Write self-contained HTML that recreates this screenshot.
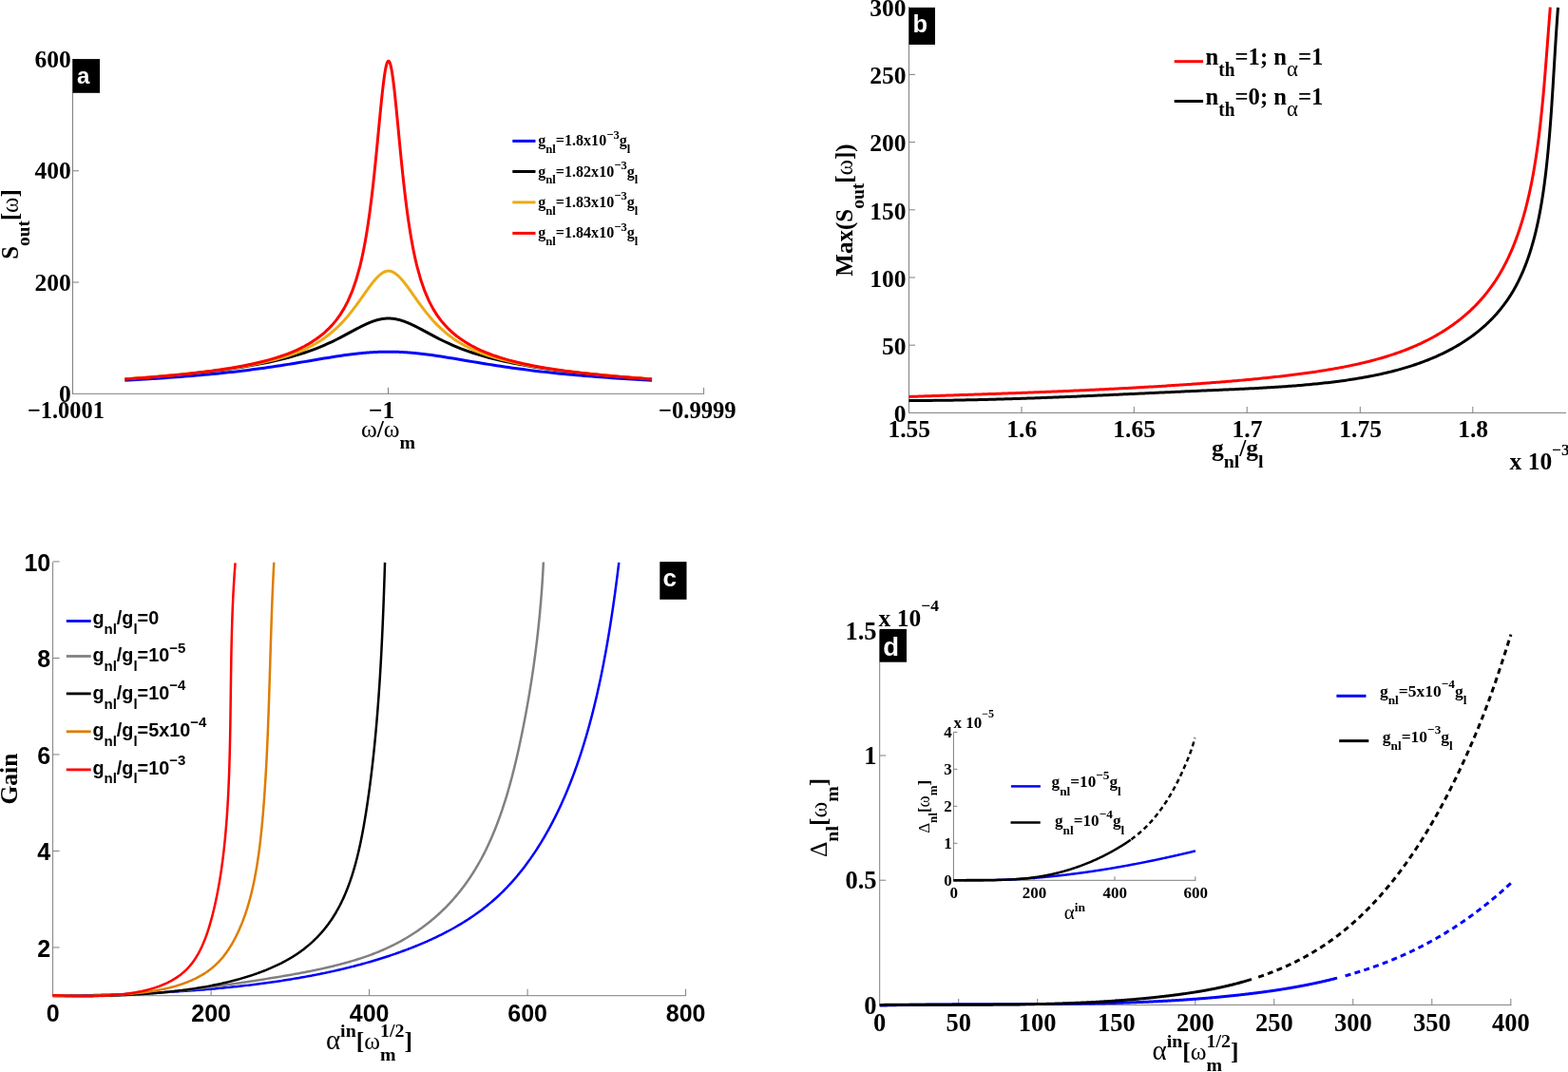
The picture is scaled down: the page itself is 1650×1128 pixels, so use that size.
<!DOCTYPE html>
<html><head><meta charset="utf-8"><title>Figure</title>
<style>html,body{margin:0;padding:0;background:#fff;width:1650px;height:1128px;overflow:hidden}svg{display:block}</style>
</head><body>
<svg width="1650" height="1128" viewBox="0 0 1650 1128">
<line x1="76.5" y1="62" x2="76.5" y2="414.8" stroke="#7f7f7f" stroke-width="1"/>
<line x1="76" y1="414.3" x2="741.1" y2="414.3" stroke="#7f7f7f" stroke-width="1"/>
<line x1="76.5" y1="297.04" x2="83" y2="297.04" stroke="#7f7f7f" stroke-width="1"/>
<line x1="76.5" y1="179.78" x2="83" y2="179.78" stroke="#7f7f7f" stroke-width="1"/>
<line x1="76.5" y1="62.52" x2="83" y2="62.52" stroke="#7f7f7f" stroke-width="1"/>
<line x1="408.5" y1="414.3" x2="408.5" y2="407.8" stroke="#7f7f7f" stroke-width="1"/>
<line x1="740.6" y1="414.3" x2="740.6" y2="407.8" stroke="#7f7f7f" stroke-width="1"/>
<text x="74.8" y="422.9" font-family="'Liberation Serif','Times New Roman',serif" font-size="25.5" font-weight="bold" text-anchor="end">0</text>
<text x="74.8" y="305.64" font-family="'Liberation Serif','Times New Roman',serif" font-size="25.5" font-weight="bold" text-anchor="end">200</text>
<text x="74.8" y="188.38" font-family="'Liberation Serif','Times New Roman',serif" font-size="25.5" font-weight="bold" text-anchor="end">400</text>
<text x="74.8" y="71.12" font-family="'Liberation Serif','Times New Roman',serif" font-size="25.5" font-weight="bold" text-anchor="end">600</text>
<text transform="translate(69.4,440) scale(0.955,1)" font-family="'Liberation Serif','Times New Roman',serif" font-size="25.5" font-weight="bold" text-anchor="middle">−1.0001</text>
<text x="401.6" y="440" font-family="'Liberation Serif','Times New Roman',serif" font-size="25.5" font-weight="bold" text-anchor="middle">−1</text>
<text transform="translate(733.8,440) scale(0.965,1)" font-family="'Liberation Serif','Times New Roman',serif" font-size="25.5" font-weight="bold" text-anchor="middle">−0.9999</text>
<g transform="translate(408.5,460.2)"><text x="-28.61" y="0" font-family="'Liberation Serif','Times New Roman',serif" font-size="25.5" font-weight="normal">ω</text><text x="-11.83" y="0" font-family="'Liberation Serif','Times New Roman',serif" font-size="25.5" font-weight="bold">/</text><text x="-4.74" y="0" font-family="'Liberation Serif','Times New Roman',serif" font-size="25.5" font-weight="normal">ω</text><text x="12.04" y="11.98" font-family="'Liberation Serif','Times New Roman',serif" font-size="19.89" font-weight="bold">m</text></g>
<g transform="translate(19.2,236) rotate(-90) scale(0.97,1)"><text x="-37.79" y="0" font-family="'Liberation Serif','Times New Roman',serif" font-size="25.5" font-weight="bold">S</text><text x="-23.61" y="11.98" font-family="'Liberation Serif','Times New Roman',serif" font-size="19.89" font-weight="bold">out</text><text x="4.02" y="0" font-family="'Liberation Serif','Times New Roman',serif" font-size="25.5" font-weight="bold">[</text><text x="12.51" y="0" font-family="'Liberation Serif','Times New Roman',serif" font-size="25.5" font-weight="normal">ω</text><text x="29.3" y="0" font-family="'Liberation Serif','Times New Roman',serif" font-size="25.5" font-weight="bold">]</text></g>
<path d="M131.4,400.15L135.59,399.93L139.79,399.7L143.98,399.47L148.17,399.23L152.37,398.98L156.56,398.73L160.75,398.47L164.95,398.2L169.14,397.93L173.33,397.65L177.53,397.36L181.72,397.06L185.91,396.76L190.11,396.44L194.3,396.12L198.49,395.79L202.68,395.44L206.88,395.09L211.07,394.73L215.26,394.35L219.46,393.96L223.65,393.57L227.84,393.16L232.04,392.73L236.23,392.3L240.42,391.85L244.62,391.39L248.81,390.91L253,390.42L257.2,389.91L261.39,389.39L265.58,388.86L269.78,388.31L273.97,387.74L278.16,387.16L282.36,386.57L286.55,385.96L290.74,385.33L294.94,384.69L299.13,384.04L303.32,383.38L307.52,382.7L311.71,382.01L315.9,381.32L320.09,380.62L324.29,379.91L328.48,379.2L332.67,378.49L336.87,377.79L341.06,377.09L345.25,376.4L349.45,375.73L353.64,375.07L357.83,374.44L362.03,373.83L366.22,373.25L370.41,372.71L374.61,372.21L378.8,371.76L379.05,371.73L379.3,371.7L379.55,371.68L379.8,371.65L380.05,371.63L380.3,371.6L380.55,371.58L380.8,371.56L381.05,371.53L381.3,371.51L381.55,371.48L381.8,371.46L382.05,371.44L382.3,371.41L382.55,371.39L382.8,371.37L383.05,371.34L383.3,371.32L383.55,371.3L383.8,371.28L384.05,371.26L384.3,371.23L384.55,371.21L384.8,371.19L385.05,371.17L385.3,371.15L385.55,371.13L385.8,371.11L386.05,371.09L386.3,371.07L386.55,371.05L386.8,371.03L387.05,371.01L387.3,370.99L387.55,370.97L387.8,370.95L388.05,370.93L388.3,370.91L388.55,370.89L388.8,370.88L389.05,370.86L389.3,370.84L389.55,370.82L389.8,370.81L390.05,370.79L390.3,370.77L390.55,370.76L390.8,370.74L391.05,370.72L391.3,370.71L391.55,370.69L391.8,370.68L392.05,370.66L392.3,370.64L392.55,370.63L392.8,370.62L393.05,370.6L393.3,370.59L393.55,370.57L393.8,370.56L394.05,370.54L394.3,370.53L394.55,370.52L394.8,370.51L395.05,370.49L395.3,370.48L395.55,370.47L395.8,370.46L396.05,370.44L396.3,370.43L396.55,370.42L396.8,370.41L397.05,370.4L397.3,370.39L397.55,370.38L397.8,370.37L398.05,370.36L398.3,370.35L398.55,370.34L398.8,370.33L399.05,370.32L399.3,370.31L399.55,370.3L399.8,370.29L400.05,370.28L400.3,370.28L400.55,370.27L400.8,370.26L401.05,370.25L401.3,370.25L401.55,370.24L401.8,370.23L402.05,370.23L402.3,370.22L402.55,370.21L402.8,370.21L403.05,370.2L403.3,370.2L403.55,370.19L403.8,370.19L404.05,370.18L404.3,370.18L404.55,370.17L404.8,370.17L405.05,370.17L405.3,370.16L405.55,370.16L405.8,370.16L406.05,370.15L406.3,370.15L406.55,370.15L406.8,370.15L407.05,370.15L407.3,370.14L407.55,370.14L407.8,370.14L408.05,370.14L408.3,370.14L408.55,370.14L408.8,370.14L409.05,370.14L409.3,370.14L409.55,370.14L409.8,370.14L410.05,370.14L410.3,370.14L410.55,370.15L410.8,370.15L411.05,370.15L411.3,370.15L411.55,370.15L411.8,370.16L412.05,370.16L412.3,370.16L412.55,370.17L412.8,370.17L413.05,370.17L413.3,370.18L413.55,370.18L413.8,370.19L414.05,370.19L414.3,370.2L414.55,370.2L414.8,370.21L415.05,370.21L415.3,370.22L415.55,370.23L415.8,370.23L416.05,370.24L416.3,370.25L416.55,370.25L416.8,370.26L417.05,370.27L417.3,370.28L417.55,370.28L417.8,370.29L418.05,370.3L418.3,370.31L418.55,370.32L418.8,370.33L419.05,370.34L419.3,370.35L419.55,370.36L419.8,370.37L420.05,370.38L420.3,370.39L420.55,370.4L420.8,370.41L421.05,370.42L421.3,370.43L421.55,370.44L421.8,370.46L422.05,370.47L422.3,370.48L422.55,370.49L422.8,370.51L423.05,370.52L423.3,370.53L423.55,370.54L423.8,370.56L424.05,370.57L424.3,370.59L424.55,370.6L424.8,370.62L425.05,370.63L425.3,370.64L425.55,370.66L425.8,370.68L426.05,370.69L426.3,370.71L426.55,370.72L426.8,370.74L427.05,370.76L427.3,370.77L427.55,370.79L427.8,370.81L428.05,370.82L428.3,370.84L428.55,370.86L428.8,370.88L429.05,370.89L429.3,370.91L429.55,370.93L429.8,370.95L430.05,370.97L430.3,370.99L430.55,371.01L430.8,371.03L431.05,371.05L431.3,371.07L431.55,371.09L431.8,371.11L432.05,371.13L432.3,371.15L432.55,371.17L432.8,371.19L433.05,371.21L433.3,371.23L433.55,371.26L433.8,371.28L434.05,371.3L434.3,371.32L434.55,371.34L434.8,371.37L435.05,371.39L435.3,371.41L435.55,371.44L435.8,371.46L436.05,371.48L436.3,371.51L436.55,371.53L436.8,371.56L437.05,371.58L437.3,371.6L437.55,371.63L437.8,371.65L438.05,371.68L438.3,371.7L438.55,371.73L438.8,371.76L442.99,372.21L447.18,372.71L451.37,373.25L455.56,373.83L459.75,374.43L463.94,375.07L468.13,375.72L472.32,376.4L476.51,377.09L480.7,377.78L484.89,378.49L489.08,379.2L493.27,379.9L497.46,380.61L501.65,381.31L505.84,382.01L510.03,382.69L514.22,383.37L518.41,384.03L522.6,384.68L526.79,385.32L530.98,385.95L535.17,386.56L539.36,387.15L543.55,387.73L547.74,388.3L551.93,388.85L556.12,389.38L560.31,389.9L564.49,390.41L568.68,390.9L572.87,391.37L577.06,391.84L581.25,392.29L585.44,392.72L589.63,393.14L593.82,393.55L598.01,393.95L602.2,394.34L606.39,394.71L610.58,395.08L614.77,395.43L618.96,395.77L623.15,396.11L627.34,396.43L631.53,396.75L635.72,397.05L639.91,397.35L644.1,397.64L648.29,397.92L652.48,398.19L656.67,398.46L660.86,398.72L665.05,398.97L669.24,399.22L673.43,399.46L677.62,399.69L681.81,399.92L686,400.14" fill="none" stroke="#0000ff" stroke-width="3" stroke-linejoin="round"/>
<path d="M131.4,399.02L135.59,398.73L139.79,398.44L143.98,398.13L148.17,397.82L152.37,397.5L156.56,397.17L160.75,396.84L164.95,396.49L169.14,396.14L173.33,395.77L177.53,395.4L181.72,395.02L185.91,394.62L190.11,394.22L194.3,393.8L198.49,393.37L202.68,392.93L206.88,392.48L211.07,392.01L215.26,391.53L219.46,391.04L223.65,390.53L227.84,390L232.04,389.46L236.23,388.9L240.42,388.32L244.62,387.72L248.81,387.1L253,386.45L257.2,385.78L261.39,385.09L265.58,384.37L269.78,383.62L273.97,382.83L278.16,382.02L282.36,381.17L286.55,380.27L290.74,379.34L294.94,378.36L299.13,377.33L303.32,376.25L307.52,375.11L311.71,373.9L315.9,372.63L320.09,371.29L324.29,369.87L328.48,368.37L332.67,366.79L336.87,365.11L341.06,363.34L345.25,361.48L349.45,359.53L353.64,357.48L357.83,355.36L362.03,353.17L366.22,350.93L370.41,348.67L374.61,346.42L378.8,344.23L379.05,344.1L379.3,343.97L379.55,343.84L379.8,343.72L380.05,343.59L380.3,343.47L380.55,343.34L380.8,343.21L381.05,343.09L381.3,342.97L381.55,342.84L381.8,342.72L382.05,342.6L382.3,342.48L382.55,342.35L382.8,342.23L383.05,342.11L383.3,341.99L383.55,341.87L383.8,341.76L384.05,341.64L384.3,341.52L384.55,341.4L384.8,341.29L385.05,341.17L385.3,341.06L385.55,340.94L385.8,340.83L386.05,340.72L386.3,340.61L386.55,340.5L386.8,340.39L387.05,340.28L387.3,340.17L387.55,340.06L387.8,339.95L388.05,339.85L388.3,339.74L388.55,339.64L388.8,339.53L389.05,339.43L389.3,339.33L389.55,339.23L389.8,339.13L390.05,339.03L390.3,338.93L390.55,338.83L390.8,338.74L391.05,338.64L391.3,338.55L391.55,338.45L391.8,338.36L392.05,338.27L392.3,338.18L392.55,338.09L392.8,338L393.05,337.91L393.3,337.83L393.55,337.74L393.8,337.66L394.05,337.58L394.3,337.5L394.55,337.41L394.8,337.34L395.05,337.26L395.3,337.18L395.55,337.11L395.8,337.03L396.05,336.96L396.3,336.89L396.55,336.81L396.8,336.75L397.05,336.68L397.3,336.61L397.55,336.54L397.8,336.48L398.05,336.42L398.3,336.36L398.55,336.29L398.8,336.24L399.05,336.18L399.3,336.12L399.55,336.07L399.8,336.01L400.05,335.96L400.3,335.91L400.55,335.86L400.8,335.81L401.05,335.76L401.3,335.72L401.55,335.67L401.8,335.63L402.05,335.59L402.3,335.55L402.55,335.51L402.8,335.48L403.05,335.44L403.3,335.41L403.55,335.37L403.8,335.34L404.05,335.31L404.3,335.29L404.55,335.26L404.8,335.24L405.05,335.21L405.3,335.19L405.55,335.17L405.8,335.15L406.05,335.13L406.3,335.12L406.55,335.1L406.8,335.09L407.05,335.08L407.3,335.07L407.55,335.06L407.8,335.05L408.05,335.05L408.3,335.04L408.55,335.04L408.8,335.04L409.05,335.04L409.3,335.04L409.55,335.05L409.8,335.05L410.05,335.06L410.3,335.07L410.55,335.08L410.8,335.09L411.05,335.1L411.3,335.12L411.55,335.13L411.8,335.15L412.05,335.17L412.3,335.19L412.55,335.21L412.8,335.24L413.05,335.26L413.3,335.29L413.55,335.31L413.8,335.34L414.05,335.37L414.3,335.41L414.55,335.44L414.8,335.48L415.05,335.51L415.3,335.55L415.55,335.59L415.8,335.63L416.05,335.67L416.3,335.72L416.55,335.76L416.8,335.81L417.05,335.86L417.3,335.91L417.55,335.96L417.8,336.01L418.05,336.07L418.3,336.12L418.55,336.18L418.8,336.24L419.05,336.29L419.3,336.36L419.55,336.42L419.8,336.48L420.05,336.54L420.3,336.61L420.55,336.68L420.8,336.75L421.05,336.81L421.3,336.89L421.55,336.96L421.8,337.03L422.05,337.11L422.3,337.18L422.55,337.26L422.8,337.34L423.05,337.41L423.3,337.5L423.55,337.58L423.8,337.66L424.05,337.74L424.3,337.83L424.55,337.91L424.8,338L425.05,338.09L425.3,338.18L425.55,338.27L425.8,338.36L426.05,338.45L426.3,338.55L426.55,338.64L426.8,338.74L427.05,338.83L427.3,338.93L427.55,339.03L427.8,339.13L428.05,339.23L428.3,339.33L428.55,339.43L428.8,339.53L429.05,339.64L429.3,339.74L429.55,339.85L429.8,339.95L430.05,340.06L430.3,340.17L430.55,340.28L430.8,340.39L431.05,340.5L431.3,340.61L431.55,340.72L431.8,340.83L432.05,340.94L432.3,341.06L432.55,341.17L432.8,341.29L433.05,341.4L433.3,341.52L433.55,341.64L433.8,341.76L434.05,341.87L434.3,341.99L434.55,342.11L434.8,342.23L435.05,342.35L435.3,342.48L435.55,342.6L435.8,342.72L436.05,342.84L436.3,342.97L436.55,343.09L436.8,343.21L437.05,343.34L437.3,343.47L437.55,343.59L437.8,343.72L438.05,343.84L438.3,343.97L438.55,344.1L438.8,344.23L442.99,346.42L447.18,348.66L451.37,350.92L455.56,353.16L459.75,355.35L463.94,357.47L468.13,359.51L472.32,361.47L476.51,363.33L480.7,365.1L484.89,366.77L489.08,368.36L493.27,369.86L497.46,371.28L501.65,372.62L505.84,373.89L510.03,375.09L514.22,376.23L518.41,377.31L522.6,378.34L526.79,379.32L530.98,380.26L535.17,381.15L539.36,382L543.55,382.82L547.74,383.6L551.93,384.35L556.12,385.07L560.31,385.77L564.49,386.44L568.68,387.08L572.87,387.7L577.06,388.3L581.25,388.88L585.44,389.44L589.63,389.99L593.82,390.51L598.01,391.02L602.2,391.52L606.39,392L610.58,392.47L614.77,392.92L618.96,393.36L623.15,393.79L627.34,394.2L631.53,394.61L635.72,395L639.91,395.39L644.1,395.76L648.29,396.12L652.48,396.48L656.67,396.82L660.86,397.16L665.05,397.49L669.24,397.81L673.43,398.12L677.62,398.42L681.81,398.72L686,399.01" fill="none" stroke="#000000" stroke-width="3" stroke-linejoin="round"/>
<path d="M131.4,398.68L135.59,398.4L139.79,398.1L143.98,397.8L148.17,397.5L152.37,397.18L156.56,396.86L160.75,396.53L164.95,396.18L169.14,395.83L173.33,395.48L177.53,395.11L181.72,394.73L185.91,394.33L190.11,393.93L194.3,393.52L198.49,393.09L202.68,392.65L206.88,392.19L211.07,391.73L215.26,391.24L219.46,390.74L223.65,390.22L227.84,389.68L232.04,389.12L236.23,388.54L240.42,387.94L244.62,387.31L248.81,386.66L253,385.98L257.2,385.26L261.39,384.51L265.58,383.73L269.78,382.9L273.97,382.03L278.16,381.11L282.36,380.14L286.55,379.11L290.74,378.01L294.94,376.84L299.13,375.59L303.32,374.25L307.52,372.81L311.71,371.26L315.9,369.59L320.09,367.77L324.29,365.79L328.48,363.64L332.67,361.29L336.87,358.72L341.06,355.91L345.25,352.82L349.45,349.43L353.64,345.71L357.83,341.63L362.03,337.19L366.22,332.36L370.41,327.17L374.61,321.63L378.8,315.84L379.05,315.49L379.3,315.13L379.55,314.78L379.8,314.43L380.05,314.07L380.3,313.72L380.55,313.37L380.8,313.01L381.05,312.66L381.3,312.3L381.55,311.95L381.8,311.59L382.05,311.24L382.3,310.88L382.55,310.53L382.8,310.17L383.05,309.82L383.3,309.46L383.55,309.11L383.8,308.75L384.05,308.4L384.3,308.04L384.55,307.69L384.8,307.34L385.05,306.98L385.3,306.63L385.55,306.28L385.8,305.93L386.05,305.58L386.3,305.23L386.55,304.88L386.8,304.53L387.05,304.18L387.3,303.84L387.55,303.49L387.8,303.15L388.05,302.8L388.3,302.46L388.55,302.12L388.8,301.78L389.05,301.44L389.3,301.11L389.55,300.77L389.8,300.44L390.05,300.11L390.3,299.78L390.55,299.45L390.8,299.12L391.05,298.8L391.3,298.47L391.55,298.15L391.8,297.83L392.05,297.52L392.3,297.2L392.55,296.89L392.8,296.58L393.05,296.27L393.3,295.97L393.55,295.67L393.8,295.37L394.05,295.07L394.3,294.78L394.55,294.49L394.8,294.2L395.05,293.91L395.3,293.63L395.55,293.35L395.8,293.08L396.05,292.81L396.3,292.54L396.55,292.27L396.8,292.01L397.05,291.75L397.3,291.5L397.55,291.25L397.8,291L398.05,290.76L398.3,290.52L398.55,290.29L398.8,290.06L399.05,289.83L399.3,289.61L399.55,289.4L399.8,289.18L400.05,288.98L400.3,288.77L400.55,288.57L400.8,288.38L401.05,288.19L401.3,288.01L401.55,287.83L401.8,287.65L402.05,287.48L402.3,287.32L402.55,287.16L402.8,287.01L403.05,286.86L403.3,286.72L403.55,286.58L403.8,286.45L404.05,286.32L404.3,286.2L404.55,286.09L404.8,285.98L405.05,285.88L405.3,285.78L405.55,285.69L405.8,285.61L406.05,285.53L406.3,285.46L406.55,285.39L406.8,285.33L407.05,285.28L407.3,285.23L407.55,285.19L407.8,285.16L408.05,285.14L408.3,285.12L408.55,285.1L408.8,285.1L409.05,285.1L409.3,285.12L409.55,285.14L409.8,285.16L410.05,285.19L410.3,285.23L410.55,285.28L410.8,285.33L411.05,285.39L411.3,285.46L411.55,285.53L411.8,285.61L412.05,285.69L412.3,285.78L412.55,285.88L412.8,285.98L413.05,286.09L413.3,286.2L413.55,286.32L413.8,286.45L414.05,286.58L414.3,286.72L414.55,286.86L414.8,287.01L415.05,287.16L415.3,287.32L415.55,287.48L415.8,287.65L416.05,287.83L416.3,288.01L416.55,288.19L416.8,288.38L417.05,288.57L417.3,288.77L417.55,288.98L417.8,289.18L418.05,289.4L418.3,289.61L418.55,289.83L418.8,290.06L419.05,290.29L419.3,290.52L419.55,290.76L419.8,291L420.05,291.25L420.3,291.5L420.55,291.75L420.8,292.01L421.05,292.27L421.3,292.54L421.55,292.81L421.8,293.08L422.05,293.35L422.3,293.63L422.55,293.91L422.8,294.2L423.05,294.49L423.3,294.78L423.55,295.07L423.8,295.37L424.05,295.67L424.3,295.97L424.55,296.27L424.8,296.58L425.05,296.89L425.3,297.2L425.55,297.52L425.8,297.83L426.05,298.15L426.3,298.47L426.55,298.8L426.8,299.12L427.05,299.45L427.3,299.78L427.55,300.11L427.8,300.44L428.05,300.77L428.3,301.11L428.55,301.44L428.8,301.78L429.05,302.12L429.3,302.46L429.55,302.8L429.8,303.15L430.05,303.49L430.3,303.84L430.55,304.18L430.8,304.53L431.05,304.88L431.3,305.23L431.55,305.58L431.8,305.93L432.05,306.28L432.3,306.63L432.55,306.98L432.8,307.34L433.05,307.69L433.3,308.04L433.55,308.4L433.8,308.75L434.05,309.11L434.3,309.46L434.55,309.82L434.8,310.17L435.05,310.53L435.3,310.88L435.55,311.24L435.8,311.59L436.05,311.95L436.3,312.3L436.55,312.66L436.8,313.01L437.05,313.37L437.3,313.72L437.55,314.07L437.8,314.43L438.05,314.78L438.3,315.13L438.55,315.49L438.8,315.84L442.99,321.63L447.18,327.16L451.37,332.35L455.56,337.17L459.75,341.62L463.94,345.69L468.13,349.41L472.32,352.8L476.51,355.89L480.7,358.7L484.89,361.27L489.08,363.62L493.27,365.77L497.46,367.75L501.65,369.56L505.84,371.24L510.03,372.79L514.22,374.23L518.41,375.57L522.6,376.82L526.79,377.99L530.98,379.09L535.17,380.12L539.36,381.1L543.55,382.02L547.74,382.89L551.93,383.71L556.12,384.5L560.31,385.25L564.49,385.96L568.68,386.64L572.87,387.3L577.06,387.92L581.25,388.53L585.44,389.11L589.63,389.67L593.82,390.2L598.01,390.72L602.2,391.22L606.39,391.71L610.58,392.18L614.77,392.63L618.96,393.07L623.15,393.5L627.34,393.92L631.53,394.32L635.72,394.71L639.91,395.09L644.1,395.46L648.29,395.82L652.48,396.17L656.67,396.51L660.86,396.84L665.05,397.17L669.24,397.48L673.43,397.79L677.62,398.09L681.81,398.38L686,398.67" fill="none" stroke="#ebab14" stroke-width="3" stroke-linejoin="round"/>
<path d="M131.4,398.98L135.59,398.69L139.79,398.4L143.98,398.1L148.17,397.79L152.37,397.47L156.56,397.14L160.75,396.8L164.95,396.45L169.14,396.09L173.33,395.72L177.53,395.34L181.72,394.95L185.91,394.54L190.11,394.12L194.3,393.69L198.49,393.24L202.68,392.78L206.88,392.29L211.07,391.79L215.26,391.27L219.46,390.73L223.65,390.17L227.84,389.59L232.04,388.98L236.23,388.34L240.42,387.68L244.62,386.98L248.81,386.26L253,385.49L257.2,384.69L261.39,383.84L265.58,382.95L269.78,382.01L273.97,381.02L278.16,379.97L282.36,378.85L286.55,377.66L290.74,376.39L294.94,375.04L299.13,373.59L303.32,372.04L307.52,370.36L311.71,368.56L315.9,366.6L320.09,364.47L324.29,362.16L328.48,359.62L332.67,356.83L336.87,353.74L341.06,350.31L345.25,346.45L349.45,342.1L353.64,337.13L357.83,331.38L362.03,324.65L366.22,316.65L370.41,306.97L374.61,295.05L378.8,280.08L379.05,279.07L379.3,278.04L379.55,277L379.8,275.95L380.05,274.87L380.3,273.79L380.55,272.68L380.8,271.56L381.05,270.43L381.3,269.27L381.55,268.1L381.8,266.91L382.05,265.71L382.3,264.48L382.55,263.24L382.8,261.97L383.05,260.69L383.3,259.39L383.55,258.07L383.8,256.73L384.05,255.37L384.3,253.98L384.55,252.58L384.8,251.16L385.05,249.71L385.3,248.24L385.55,246.75L385.8,245.23L386.05,243.7L386.3,242.13L386.55,240.55L386.8,238.94L387.05,237.31L387.3,235.65L387.55,233.97L387.8,232.26L388.05,230.53L388.3,228.77L388.55,226.99L388.8,225.18L389.05,223.34L389.3,221.48L389.55,219.59L389.8,217.68L390.05,215.73L390.3,213.76L390.55,211.77L390.8,209.74L391.05,207.69L391.3,205.61L391.55,203.51L391.8,201.37L392.05,199.22L392.3,197.03L392.55,194.82L392.8,192.58L393.05,190.31L393.3,188.02L393.55,185.71L393.8,183.37L394.05,181L394.3,178.61L394.55,176.2L394.8,173.77L395.05,171.31L395.3,168.84L395.55,166.34L395.8,163.83L396.05,161.29L396.3,158.75L396.55,156.18L396.8,153.61L397.05,151.02L397.3,148.42L397.55,145.81L397.8,143.2L398.05,140.58L398.3,137.96L398.55,135.34L398.8,132.71L399.05,130.1L399.3,127.49L399.55,124.88L399.8,122.29L400.05,119.72L400.3,117.16L400.55,114.62L400.8,112.11L401.05,109.62L401.3,107.16L401.55,104.74L401.8,102.35L402.05,100L402.3,97.69L402.55,95.44L402.8,93.23L403.05,91.08L403.3,88.98L403.55,86.95L403.8,84.98L404.05,83.09L404.3,81.26L404.55,79.51L404.8,77.84L405.05,76.25L405.3,74.75L405.55,73.34L405.8,72.01L406.05,70.79L406.3,69.66L406.55,68.63L406.8,67.7L407.05,66.88L407.3,66.16L407.55,65.55L407.8,65.05L408.05,64.66L408.3,64.38L408.55,64.21L408.8,64.15L409.05,64.21L409.3,64.38L409.55,64.66L409.8,65.05L410.05,65.55L410.3,66.16L410.55,66.88L410.8,67.7L411.05,68.63L411.3,69.66L411.55,70.79L411.8,72.01L412.05,73.34L412.3,74.75L412.55,76.25L412.8,77.84L413.05,79.51L413.3,81.26L413.55,83.09L413.8,84.98L414.05,86.95L414.3,88.98L414.55,91.08L414.8,93.23L415.05,95.44L415.3,97.69L415.55,100L415.8,102.35L416.05,104.74L416.3,107.16L416.55,109.62L416.8,112.11L417.05,114.62L417.3,117.16L417.55,119.72L417.8,122.29L418.05,124.88L418.3,127.49L418.55,130.1L418.8,132.71L419.05,135.34L419.3,137.96L419.55,140.58L419.8,143.2L420.05,145.81L420.3,148.42L420.55,151.02L420.8,153.61L421.05,156.18L421.3,158.75L421.55,161.29L421.8,163.83L422.05,166.34L422.3,168.84L422.55,171.31L422.8,173.77L423.05,176.2L423.3,178.61L423.55,181L423.8,183.37L424.05,185.71L424.3,188.02L424.55,190.31L424.8,192.58L425.05,194.82L425.3,197.03L425.55,199.22L425.8,201.37L426.05,203.51L426.3,205.61L426.55,207.69L426.8,209.74L427.05,211.77L427.3,213.76L427.55,215.73L427.8,217.68L428.05,219.59L428.3,221.48L428.55,223.34L428.8,225.18L429.05,226.99L429.3,228.77L429.55,230.53L429.8,232.26L430.05,233.97L430.3,235.65L430.55,237.31L430.8,238.94L431.05,240.55L431.3,242.13L431.55,243.7L431.8,245.23L432.05,246.75L432.3,248.24L432.55,249.71L432.8,251.16L433.05,252.58L433.3,253.98L433.55,255.37L433.8,256.73L434.05,258.07L434.3,259.39L434.55,260.69L434.8,261.97L435.05,263.24L435.3,264.48L435.55,265.71L435.8,266.91L436.05,268.1L436.3,269.27L436.55,270.43L436.8,271.56L437.05,272.68L437.3,273.79L437.55,274.87L437.8,275.95L438.05,277L438.3,278.04L438.55,279.07L438.8,280.08L442.99,295.03L447.18,306.95L451.37,316.63L455.56,324.63L459.75,331.35L463.94,337.1L468.13,342.07L472.32,346.43L476.51,350.28L480.7,353.72L484.89,356.8L489.08,359.59L493.27,362.13L497.46,364.45L501.65,366.57L505.84,368.53L510.03,370.34L514.22,372.01L518.41,373.57L522.6,375.02L526.79,376.37L530.98,377.64L535.17,378.83L539.36,379.95L543.55,381L547.74,381.99L551.93,382.93L556.12,383.82L560.31,384.67L564.49,385.47L568.68,386.24L572.87,386.96L577.06,387.66L581.25,388.33L585.44,388.96L589.63,389.57L593.82,390.16L598.01,390.72L602.2,391.26L606.39,391.78L610.58,392.28L614.77,392.76L618.96,393.22L623.15,393.67L627.34,394.11L631.53,394.53L635.72,394.93L639.91,395.33L644.1,395.71L648.29,396.08L652.48,396.44L656.67,396.79L660.86,397.12L665.05,397.45L669.24,397.77L673.43,398.08L677.62,398.38L681.81,398.68L686,398.96" fill="none" stroke="#ff0000" stroke-width="3" stroke-linejoin="round"/>
<line x1="539.3" y1="148.4" x2="563.5" y2="148.4" stroke="#0000ff" stroke-width="3"/>
<g transform="translate(566.2,153.4) scale(0.975,1)"><text x="0" y="0" font-family="'Liberation Serif','Times New Roman',serif" font-size="16.5" font-weight="bold">g</text><text x="8.25" y="7.7" font-family="'Liberation Serif','Times New Roman',serif" font-size="13" font-weight="bold">nl</text><text x="19.09" y="0" font-family="'Liberation Serif','Times New Roman',serif" font-size="16.5" font-weight="bold">=1.8x10</text><text x="73.87" y="-7.9" font-family="'Liberation Serif','Times New Roman',serif" font-size="13" font-weight="bold">−3</text><text x="87.78" y="0" font-family="'Liberation Serif','Times New Roman',serif" font-size="16.5" font-weight="bold">g</text><text x="96.03" y="7.7" font-family="'Liberation Serif','Times New Roman',serif" font-size="13" font-weight="bold">l</text></g>
<line x1="539.3" y1="180.5" x2="563.5" y2="180.5" stroke="#000000" stroke-width="3"/>
<g transform="translate(566.2,185.5) scale(0.975,1)"><text x="0" y="0" font-family="'Liberation Serif','Times New Roman',serif" font-size="16.5" font-weight="bold">g</text><text x="8.25" y="7.7" font-family="'Liberation Serif','Times New Roman',serif" font-size="13" font-weight="bold">nl</text><text x="19.09" y="0" font-family="'Liberation Serif','Times New Roman',serif" font-size="16.5" font-weight="bold">=1.82x10</text><text x="82.12" y="-7.9" font-family="'Liberation Serif','Times New Roman',serif" font-size="13" font-weight="bold">−3</text><text x="96.03" y="0" font-family="'Liberation Serif','Times New Roman',serif" font-size="16.5" font-weight="bold">g</text><text x="104.28" y="7.7" font-family="'Liberation Serif','Times New Roman',serif" font-size="13" font-weight="bold">l</text></g>
<line x1="539.3" y1="212.9" x2="563.5" y2="212.9" stroke="#ebab14" stroke-width="3"/>
<g transform="translate(566.2,217.9) scale(0.975,1)"><text x="0" y="0" font-family="'Liberation Serif','Times New Roman',serif" font-size="16.5" font-weight="bold">g</text><text x="8.25" y="7.7" font-family="'Liberation Serif','Times New Roman',serif" font-size="13" font-weight="bold">nl</text><text x="19.09" y="0" font-family="'Liberation Serif','Times New Roman',serif" font-size="16.5" font-weight="bold">=1.83x10</text><text x="82.12" y="-7.9" font-family="'Liberation Serif','Times New Roman',serif" font-size="13" font-weight="bold">−3</text><text x="96.03" y="0" font-family="'Liberation Serif','Times New Roman',serif" font-size="16.5" font-weight="bold">g</text><text x="104.28" y="7.7" font-family="'Liberation Serif','Times New Roman',serif" font-size="13" font-weight="bold">l</text></g>
<line x1="539.3" y1="245.4" x2="563.5" y2="245.4" stroke="#ff0000" stroke-width="3"/>
<g transform="translate(566.2,250.4) scale(0.975,1)"><text x="0" y="0" font-family="'Liberation Serif','Times New Roman',serif" font-size="16.5" font-weight="bold">g</text><text x="8.25" y="7.7" font-family="'Liberation Serif','Times New Roman',serif" font-size="13" font-weight="bold">nl</text><text x="19.09" y="0" font-family="'Liberation Serif','Times New Roman',serif" font-size="16.5" font-weight="bold">=1.84x10</text><text x="82.12" y="-7.9" font-family="'Liberation Serif','Times New Roman',serif" font-size="13" font-weight="bold">−3</text><text x="96.03" y="0" font-family="'Liberation Serif','Times New Roman',serif" font-size="16.5" font-weight="bold">g</text><text x="104.28" y="7.7" font-family="'Liberation Serif','Times New Roman',serif" font-size="13" font-weight="bold">l</text></g>
<rect x="76.5" y="62.1" width="28.5" height="35.7" fill="#000"/>
<text x="80.9" y="87.8" font-family="'Liberation Sans',Arial,sans-serif" font-size="24" font-weight="bold" text-anchor="start" fill="#fff">a</text>
<line x1="956.5" y1="7" x2="956.5" y2="434.9" stroke="#7f7f7f" stroke-width="1"/>
<line x1="956" y1="434.4" x2="1648" y2="434.4" stroke="#7f7f7f" stroke-width="1"/>
<line x1="956.5" y1="363.2" x2="963" y2="363.2" stroke="#7f7f7f" stroke-width="1"/>
<line x1="956.5" y1="292" x2="963" y2="292" stroke="#7f7f7f" stroke-width="1"/>
<line x1="956.5" y1="220.8" x2="963" y2="220.8" stroke="#7f7f7f" stroke-width="1"/>
<line x1="956.5" y1="149.6" x2="963" y2="149.6" stroke="#7f7f7f" stroke-width="1"/>
<line x1="956.5" y1="78.4" x2="963" y2="78.4" stroke="#7f7f7f" stroke-width="1"/>
<line x1="1075" y1="434.4" x2="1075" y2="427.9" stroke="#7f7f7f" stroke-width="1"/>
<line x1="1193.3" y1="434.4" x2="1193.3" y2="427.9" stroke="#7f7f7f" stroke-width="1"/>
<line x1="1312.2" y1="434.4" x2="1312.2" y2="427.9" stroke="#7f7f7f" stroke-width="1"/>
<line x1="1431.3" y1="434.4" x2="1431.3" y2="427.9" stroke="#7f7f7f" stroke-width="1"/>
<line x1="1549.8" y1="434.4" x2="1549.8" y2="427.9" stroke="#7f7f7f" stroke-width="1"/>
<text x="953.6" y="444.1" font-family="'Liberation Serif','Times New Roman',serif" font-size="25.5" font-weight="bold" text-anchor="end">0</text>
<text x="953.6" y="372.9" font-family="'Liberation Serif','Times New Roman',serif" font-size="25.5" font-weight="bold" text-anchor="end">50</text>
<text x="953.6" y="301.7" font-family="'Liberation Serif','Times New Roman',serif" font-size="25.5" font-weight="bold" text-anchor="end">100</text>
<text x="953.6" y="230.5" font-family="'Liberation Serif','Times New Roman',serif" font-size="25.5" font-weight="bold" text-anchor="end">150</text>
<text x="953.6" y="159.3" font-family="'Liberation Serif','Times New Roman',serif" font-size="25.5" font-weight="bold" text-anchor="end">200</text>
<text x="953.6" y="88.1" font-family="'Liberation Serif','Times New Roman',serif" font-size="25.5" font-weight="bold" text-anchor="end">250</text>
<text x="953.6" y="16.9" font-family="'Liberation Serif','Times New Roman',serif" font-size="25.5" font-weight="bold" text-anchor="end">300</text>
<text x="956.8" y="459.5" font-family="'Liberation Serif','Times New Roman',serif" font-size="25.5" font-weight="bold" text-anchor="middle">1.55</text>
<text x="1075.3" y="459.5" font-family="'Liberation Serif','Times New Roman',serif" font-size="25.5" font-weight="bold" text-anchor="middle">1.6</text>
<text x="1193.6" y="459.5" font-family="'Liberation Serif','Times New Roman',serif" font-size="25.5" font-weight="bold" text-anchor="middle">1.65</text>
<text x="1312.5" y="459.5" font-family="'Liberation Serif','Times New Roman',serif" font-size="25.5" font-weight="bold" text-anchor="middle">1.7</text>
<text x="1431.6" y="459.5" font-family="'Liberation Serif','Times New Roman',serif" font-size="25.5" font-weight="bold" text-anchor="middle">1.75</text>
<text x="1550.1" y="459.5" font-family="'Liberation Serif','Times New Roman',serif" font-size="25.5" font-weight="bold" text-anchor="middle">1.8</text>
<g transform="translate(1302.3,479.8)"><text x="-27.35" y="0" font-family="'Liberation Serif','Times New Roman',serif" font-size="25.5" font-weight="bold">g</text><text x="-14.6" y="11.98" font-family="'Liberation Serif','Times New Roman',serif" font-size="19.89" font-weight="bold">nl</text><text x="1.99" y="0" font-family="'Liberation Serif','Times New Roman',serif" font-size="25.5" font-weight="bold">/</text><text x="9.07" y="0" font-family="'Liberation Serif','Times New Roman',serif" font-size="25.5" font-weight="bold">g</text><text x="21.82" y="11.98" font-family="'Liberation Serif','Times New Roman',serif" font-size="19.89" font-weight="bold">l</text></g>
<g transform="translate(1588.5,494.2)"><text x="0" y="0" font-family="'Liberation Serif','Times New Roman',serif" font-size="25.5" font-weight="bold">x 10</text><text x="44.62" y="-15.5" font-family="'Liberation Serif','Times New Roman',serif" font-size="17.5" font-weight="bold">−3</text></g>
<g transform="translate(896.9,221) rotate(-90) scale(0.98,1)"><text x="-71.07" y="0" font-family="'Liberation Serif','Times New Roman',serif" font-size="25.5" font-weight="bold">Max(S</text><text x="1.17" y="11.98" font-family="'Liberation Serif','Times New Roman',serif" font-size="19.89" font-weight="bold">out</text><text x="28.81" y="0" font-family="'Liberation Serif','Times New Roman',serif" font-size="25.5" font-weight="bold">[</text><text x="37.3" y="0" font-family="'Liberation Serif','Times New Roman',serif" font-size="25.5" font-weight="normal">ω</text><text x="54.08" y="0" font-family="'Liberation Serif','Times New Roman',serif" font-size="25.5" font-weight="bold">])</text></g>
<path d="M956.38,421.48L958.57,421.48L960.77,421.47L962.96,421.47L965.16,421.46L967.35,421.46L969.53,421.45L971.72,421.44L973.91,421.42L976.09,421.41L978.27,421.4L980.45,421.38L982.63,421.36L984.81,421.34L986.99,421.32L989.16,421.3L991.34,421.27L993.51,421.25L995.68,421.22L997.85,421.19L1000.02,421.16L1002.18,421.13L1004.35,421.1L1006.51,421.06L1008.67,421.03L1010.83,420.99L1012.99,420.95L1015.15,420.91L1017.31,420.87L1019.46,420.83L1021.62,420.78L1023.77,420.74L1025.92,420.69L1028.07,420.65L1030.22,420.6L1032.37,420.55L1034.52,420.5L1036.66,420.44L1038.81,420.39L1040.95,420.34L1043.09,420.28L1045.23,420.23L1047.37,420.17L1049.51,420.11L1051.65,420.05L1053.79,419.99L1055.92,419.93L1058.06,419.86L1060.19,419.8L1062.33,419.73L1064.46,419.67L1066.59,419.6L1068.72,419.53L1070.85,419.47L1072.98,419.4L1075.1,419.33L1077.23,419.25L1079.36,419.18L1081.48,419.11L1083.6,419.03L1085.73,418.96L1087.85,418.88L1089.97,418.81L1092.09,418.73L1094.21,418.65L1096.33,418.57L1098.45,418.49L1100.57,418.41L1102.68,418.33L1104.8,418.25L1106.91,418.17L1109.03,418.09L1111.14,418L1113.26,417.92L1115.37,417.83L1117.48,417.75L1119.59,417.66L1121.7,417.57L1123.82,417.49L1125.93,417.4L1128.03,417.31L1130.14,417.22L1132.25,417.13L1134.36,417.04L1136.47,416.95L1138.57,416.86L1140.68,416.77L1142.79,416.68L1144.89,416.59L1147,416.49L1149.1,416.4L1151.21,416.31L1153.31,416.21L1155.41,416.12L1157.52,416.02L1159.62,415.93L1161.72,415.84L1163.83,415.74L1165.93,415.64L1168.03,415.55L1170.13,415.45L1172.23,415.36L1174.33,415.26L1176.44,415.16L1178.54,415.07L1180.64,414.97L1182.74,414.87L1184.84,414.77L1186.94,414.68L1189.04,414.58L1191.14,414.48L1193.24,414.38L1195.34,414.29L1197.44,414.19L1199.54,414.09L1201.64,413.99L1203.74,413.89L1205.84,413.8L1207.94,413.7L1210.04,413.6L1212.14,413.5L1214.24,413.4L1216.34,413.31L1218.44,413.21L1220.54,413.11L1222.64,413.01L1224.74,412.92L1226.84,412.82L1228.94,412.72L1231.04,412.63L1233.14,412.53L1235.24,412.43L1237.34,412.34L1239.45,412.24L1241.55,412.14L1243.65,412.05L1245.75,411.95L1247.86,411.86L1249.96,411.76L1252.06,411.67L1254.17,411.58L1256.27,411.48L1258.38,411.39L1260.48,411.3L1262.59,411.2L1264.69,411.11L1266.8,411.02L1268.91,410.93L1271.01,410.84L1273.12,410.75L1275.23,410.66L1277.33,410.57L1279.44,410.47L1281.55,410.38L1283.65,410.29L1285.76,410.2L1287.86,410.11L1289.97,410.02L1292.07,409.92L1294.18,409.83L1296.28,409.73L1298.38,409.64L1300.49,409.54L1302.59,409.45L1304.69,409.35L1306.79,409.25L1308.88,409.15L1310.98,409.05L1313.08,408.95L1315.17,408.84L1317.26,408.74L1319.35,408.63L1321.44,408.52L1323.53,408.41L1325.61,408.3L1327.7,408.18L1329.78,408.07L1331.86,407.95L1333.94,407.83L1336.01,407.71L1338.08,407.58L1340.16,407.45L1342.22,407.32L1344.29,407.19L1346.35,407.06L1348.41,406.92L1350.47,406.78L1352.53,406.64L1354.58,406.49L1356.63,406.35L1358.67,406.19L1360.72,406.04L1362.76,405.88L1364.8,405.72L1366.83,405.56L1368.86,405.39L1370.89,405.22L1372.91,405.04L1374.93,404.86L1376.94,404.68L1378.96,404.5L1380.96,404.31L1382.97,404.11L1384.97,403.91L1386.96,403.71L1388.95,403.51L1390.94,403.3L1392.93,403.08L1394.9,402.86L1396.88,402.64L1398.85,402.41L1400.81,402.18L1402.77,401.94L1404.73,401.7L1406.68,401.45L1408.62,401.2L1410.57,400.94L1412.5,400.68L1414.43,400.41L1416.36,400.14L1418.28,399.86L1420.19,399.58L1422.1,399.29L1424,398.99L1425.9,398.69L1427.79,398.39L1429.68,398.07L1431.56,397.76L1433.43,397.43L1435.3,397.1L1437.16,396.77L1439.02,396.43L1440.87,396.08L1442.71,395.72L1444.55,395.36L1446.38,394.99L1448.2,394.62L1450.02,394.24L1451.83,393.85L1453.63,393.46L1455.43,393.05L1457.21,392.65L1459,392.23L1460.77,391.81L1462.54,391.38L1464.3,390.94L1466.05,390.5L1467.8,390.04L1469.54,389.59L1471.27,389.12L1472.99,388.64L1474.71,388.16L1476.42,387.67L1478.12,387.17L1479.81,386.67L1481.49,386.15L1483.17,385.63L1484.84,385.1L1486.5,384.57L1488.15,384.02L1489.79,383.47L1491.43,382.9L1493.06,382.33L1494.68,381.76L1496.29,381.17L1497.89,380.57L1499.48,379.97L1501.07,379.36L1502.65,378.74L1504.22,378.11L1505.78,377.47L1507.33,376.82L1508.87,376.17L1510.4,375.51L1511.93,374.83L1513.45,374.15L1514.95,373.46L1516.45,372.76L1517.94,372.05L1519.42,371.34L1520.89,370.61L1522.36,369.88L1523.81,369.13L1525.25,368.38L1526.69,367.61L1528.11,366.84L1529.53,366.06L1530.94,365.27L1532.33,364.47L1533.72,363.66L1535.1,362.84L1536.47,362.01L1537.83,361.17L1539.18,360.32L1540.52,359.47L1541.85,358.6L1543.17,357.72L1544.48,356.83L1545.78,355.93L1547.07,355.03L1548.35,354.11L1549.62,353.18L1550.88,352.24L1552.13,351.3L1553.37,350.34L1554.6,349.37L1555.82,348.39L1557.02,347.4L1558.22,346.4L1559.41,345.39L1560.59,344.37L1561.75,343.34L1562.91,342.3L1564.06,341.25L1565.19,340.18L1566.32,339.11L1567.43,338.03L1568.53,336.93L1569.62,335.83L1570.71,334.71L1571.78,333.58L1572.83,332.44L1573.88,331.29L1574.92,330.13L1575.94,328.96L1576.96,327.78L1577.96,326.58L1578.95,325.37L1579.93,324.16L1580.9,322.93L1581.86,321.69L1582.81,320.44L1583.74,319.17L1584.67,317.9L1585.58,316.61L1586.48,315.31L1587.36,314.01L1588.24,312.68L1589.11,311.35L1589.96,310.01L1590.8,308.65L1591.63,307.28L1592.44,305.9L1593.25,304.51L1594.04,303.1L1594.82,301.68L1595.59,300.26L1596.35,298.82L1597.1,297.37L1597.83,295.9L1598.56,294.43L1599.27,292.95L1599.97,291.45L1600.67,289.94L1601.35,288.43L1602.02,286.9L1602.68,285.36L1603.32,283.81L1603.96,282.25L1604.59,280.68L1605.21,279.1L1605.82,277.52L1606.42,275.92L1607.01,274.31L1607.59,272.69L1608.16,271.06L1608.72,269.42L1609.27,267.78L1609.81,266.12L1610.34,264.45L1610.86,262.78L1611.38,261.1L1611.88,259.4L1612.38,257.7L1612.87,255.99L1613.35,254.28L1613.82,252.55L1614.29,250.82L1614.74,249.07L1615.19,247.32L1615.63,245.56L1616.06,243.8L1616.48,242.02L1616.9,240.24L1617.31,238.45L1617.71,236.66L1618.1,234.85L1618.49,233.04L1618.87,231.22L1619.24,229.4L1619.61,227.57L1619.97,225.73L1620.32,223.88L1620.66,222.03L1621,220.17L1621.34,218.31L1621.66,216.44L1621.99,214.56L1622.3,212.68L1622.61,210.79L1622.91,208.89L1623.21,206.99L1623.5,205.09L1623.79,203.18L1624.07,201.26L1624.35,199.34L1624.62,197.41L1624.88,195.48L1625.15,193.54L1625.4,191.6L1625.65,189.66L1625.9,187.71L1626.14,185.75L1626.38,183.79L1626.62,181.83L1626.85,179.86L1627.07,177.89L1627.29,175.91L1627.51,173.93L1627.73,171.95L1627.94,169.96L1628.14,167.97L1628.35,165.98L1628.55,163.98L1628.75,161.98L1628.94,159.98L1629.13,157.97L1629.32,155.96L1629.5,153.95L1629.69,151.93L1629.87,149.91L1630.04,147.89L1630.22,145.87L1630.39,143.84L1630.56,141.81L1630.72,139.78L1630.89,137.75L1631.05,135.71L1631.21,133.68L1631.37,131.64L1631.52,129.59L1631.68,127.55L1631.83,125.5L1631.98,123.45L1632.13,121.4L1632.27,119.35L1632.42,117.3L1632.56,115.24L1632.7,113.19L1632.84,111.13L1632.98,109.07L1633.11,107.01L1633.25,104.95L1633.38,102.88L1633.52,100.82L1633.65,98.75L1633.78,96.69L1633.91,94.62L1634.04,92.55L1634.17,90.48L1634.3,88.41L1634.42,86.34L1634.55,84.27L1634.68,82.2L1634.8,80.13L1634.93,78.05L1635.05,75.98L1635.18,73.91L1635.3,71.84L1635.43,69.76L1635.55,67.69L1635.68,65.62L1635.8,63.54L1635.93,61.47L1636.05,59.4L1636.18,57.33L1636.31,55.26L1636.43,53.18L1636.56,51.11L1636.69,49.04L1636.82,46.98L1636.95,44.91L1637.08,42.84L1637.21,40.77L1637.34,38.71L1637.47,36.64L1637.61,34.58L1637.74,32.52L1637.88,30.45L1638.02,28.39L1638.16,26.34L1638.3,24.28L1638.44,22.22L1638.58,20.17L1638.73,18.12L1638.87,16.07L1639.02,14.02L1639.17,11.97L1639.33,9.93L1639.48,7.88" fill="none" stroke="#000" stroke-width="3" stroke-linejoin="round"/>
<path d="M956.4,417.4L958.5,417.33L960.61,417.26L962.72,417.19L964.82,417.13L966.93,417.06L969.03,416.99L971.14,416.92L973.24,416.85L975.35,416.79L977.46,416.72L979.56,416.65L981.67,416.58L983.77,416.51L985.88,416.44L987.98,416.38L990.09,416.31L992.19,416.24L994.3,416.17L996.4,416.1L998.51,416.03L1000.61,415.96L1002.72,415.89L1004.82,415.82L1006.92,415.75L1009.03,415.68L1011.13,415.61L1013.24,415.54L1015.34,415.47L1017.44,415.4L1019.55,415.33L1021.65,415.26L1023.75,415.19L1025.85,415.12L1027.96,415.05L1030.06,414.98L1032.16,414.91L1034.26,414.83L1036.36,414.76L1038.46,414.69L1040.56,414.62L1042.67,414.54L1044.77,414.47L1046.87,414.39L1048.97,414.32L1051.06,414.25L1053.16,414.17L1055.26,414.1L1057.36,414.02L1059.46,413.95L1061.56,413.87L1063.65,413.79L1065.75,413.72L1067.85,413.64L1069.94,413.56L1072.04,413.48L1074.14,413.41L1076.23,413.33L1078.32,413.25L1080.42,413.17L1082.51,413.09L1084.61,413.01L1086.7,412.93L1088.79,412.85L1090.88,412.76L1092.98,412.68L1095.07,412.6L1097.16,412.52L1099.25,412.43L1101.34,412.35L1103.43,412.26L1105.52,412.18L1107.6,412.09L1109.69,412.01L1111.78,411.92L1113.86,411.83L1115.95,411.75L1118.04,411.66L1120.12,411.57L1122.21,411.48L1124.29,411.39L1126.37,411.3L1128.46,411.21L1130.54,411.12L1132.62,411.02L1134.7,410.93L1136.78,410.84L1138.86,410.74L1140.94,410.65L1143.02,410.55L1145.1,410.46L1147.17,410.36L1149.25,410.26L1151.32,410.17L1153.4,410.07L1155.47,409.97L1157.55,409.87L1159.62,409.77L1161.69,409.67L1163.76,409.56L1165.83,409.46L1167.9,409.36L1169.97,409.25L1172.04,409.15L1174.11,409.04L1176.18,408.93L1178.24,408.83L1180.31,408.72L1182.37,408.61L1184.44,408.5L1186.5,408.39L1188.56,408.28L1190.63,408.17L1192.69,408.05L1194.75,407.94L1196.8,407.82L1198.86,407.71L1200.92,407.59L1202.98,407.47L1205.03,407.36L1207.09,407.24L1209.14,407.12L1211.19,407L1213.25,406.88L1215.3,406.75L1217.35,406.63L1219.4,406.5L1221.45,406.38L1223.49,406.25L1225.54,406.13L1227.58,406L1229.63,405.87L1231.67,405.74L1233.72,405.61L1235.76,405.48L1237.8,405.34L1239.84,405.21L1241.88,405.07L1243.91,404.94L1245.95,404.8L1247.99,404.66L1250.02,404.52L1252.05,404.38L1254.09,404.24L1256.12,404.1L1258.15,403.96L1260.18,403.81L1262.21,403.67L1264.23,403.52L1266.26,403.37L1268.28,403.22L1270.31,403.07L1272.33,402.92L1274.35,402.77L1276.37,402.61L1278.39,402.46L1280.41,402.3L1282.42,402.15L1284.44,401.99L1286.45,401.83L1288.46,401.66L1290.47,401.5L1292.48,401.33L1294.49,401.17L1296.49,401L1298.5,400.83L1300.5,400.66L1302.5,400.48L1304.5,400.31L1306.49,400.13L1308.49,399.95L1310.48,399.77L1312.47,399.59L1314.46,399.4L1316.45,399.22L1318.43,399.03L1320.42,398.84L1322.4,398.64L1324.38,398.45L1326.35,398.25L1328.33,398.05L1330.3,397.85L1332.27,397.65L1334.24,397.44L1336.2,397.23L1338.17,397.02L1340.13,396.81L1342.08,396.59L1344.04,396.38L1345.99,396.16L1347.94,395.93L1349.89,395.71L1351.84,395.48L1353.78,395.25L1355.72,395.01L1357.66,394.78L1359.59,394.54L1361.53,394.3L1363.45,394.05L1365.38,393.81L1367.3,393.55L1369.22,393.3L1371.14,393.04L1373.06,392.79L1374.97,392.52L1376.87,392.26L1378.78,391.99L1380.68,391.71L1382.58,391.44L1384.47,391.16L1386.36,390.87L1388.25,390.58L1390.13,390.29L1392,390L1393.88,389.7L1395.75,389.39L1397.61,389.08L1399.47,388.77L1401.33,388.45L1403.18,388.13L1405.03,387.81L1406.87,387.47L1408.71,387.14L1410.54,386.8L1412.37,386.45L1414.2,386.1L1416.01,385.75L1417.83,385.39L1419.63,385.02L1421.44,384.65L1423.23,384.27L1425.02,383.89L1426.81,383.5L1428.59,383.11L1430.36,382.71L1432.13,382.3L1433.9,381.89L1435.65,381.47L1437.4,381.05L1439.15,380.62L1440.88,380.19L1442.62,379.74L1444.34,379.29L1446.06,378.84L1447.77,378.38L1449.48,377.91L1451.18,377.43L1452.87,376.95L1454.55,376.46L1456.23,375.97L1457.9,375.46L1459.56,374.95L1461.22,374.44L1462.87,373.91L1464.51,373.38L1466.14,372.84L1467.77,372.29L1469.39,371.74L1471,371.17L1472.6,370.6L1474.2,370.02L1475.78,369.44L1477.36,368.84L1478.93,368.24L1480.5,367.63L1482.05,367.01L1483.6,366.38L1485.14,365.75L1486.67,365.11L1488.19,364.45L1489.71,363.8L1491.21,363.13L1492.71,362.45L1494.2,361.77L1495.68,361.08L1497.16,360.38L1498.62,359.67L1500.08,358.95L1501.53,358.23L1502.97,357.49L1504.4,356.75L1505.82,356L1507.24,355.24L1508.64,354.47L1510.04,353.69L1511.43,352.91L1512.81,352.11L1514.18,351.31L1515.54,350.5L1516.89,349.68L1518.24,348.85L1519.57,348.01L1520.9,347.17L1522.22,346.31L1523.53,345.45L1524.83,344.57L1526.12,343.69L1527.4,342.8L1528.68,341.9L1529.94,340.99L1531.2,340.07L1532.44,339.15L1533.68,338.21L1534.91,337.26L1536.13,336.31L1537.34,335.34L1538.54,334.37L1539.73,333.39L1540.91,332.39L1542.08,331.39L1543.24,330.38L1544.4,329.36L1545.54,328.33L1546.67,327.29L1547.8,326.24L1548.91,325.18L1550.02,324.11L1551.11,323.04L1552.2,321.95L1553.28,320.85L1554.34,319.75L1555.4,318.63L1556.45,317.5L1557.49,316.37L1558.51,315.22L1559.53,314.06L1560.54,312.9L1561.54,311.72L1562.53,310.54L1563.5,309.34L1564.47,308.13L1565.43,306.92L1566.38,305.69L1567.31,304.46L1568.24,303.21L1569.16,301.95L1570.07,300.69L1570.96,299.41L1571.85,298.12L1572.73,296.83L1573.59,295.52L1574.45,294.2L1575.3,292.87L1576.13,291.54L1576.96,290.19L1577.78,288.83L1578.58,287.47L1579.38,286.09L1580.17,284.71L1580.95,283.31L1581.72,281.91L1582.48,280.49L1583.23,279.07L1583.97,277.64L1584.7,276.2L1585.43,274.74L1586.14,273.29L1586.85,271.82L1587.54,270.34L1588.23,268.85L1588.91,267.36L1589.58,265.86L1590.24,264.35L1590.9,262.83L1591.54,261.3L1592.18,259.76L1592.81,258.21L1593.43,256.66L1594.04,255.1L1594.64,253.53L1595.24,251.95L1595.83,250.37L1596.41,248.77L1596.98,247.17L1597.55,245.56L1598.1,243.95L1598.65,242.32L1599.2,240.69L1599.73,239.05L1600.26,237.41L1600.78,235.76L1601.29,234.1L1601.8,232.43L1602.3,230.75L1602.79,229.07L1603.28,227.38L1603.75,225.69L1604.23,223.99L1604.69,222.28L1605.15,220.56L1605.6,218.84L1606.05,217.11L1606.49,215.38L1606.92,213.63L1607.34,211.89L1607.76,210.13L1608.18,208.37L1608.59,206.61L1608.99,204.84L1609.38,203.06L1609.77,201.28L1610.16,199.49L1610.54,197.69L1610.91,195.89L1611.28,194.08L1611.64,192.27L1612,190.46L1612.35,188.63L1612.69,186.8L1613.03,184.97L1613.37,183.13L1613.7,181.29L1614.03,179.44L1614.35,177.59L1614.66,175.73L1614.97,173.87L1615.28,172L1615.58,170.13L1615.88,168.25L1616.17,166.37L1616.46,164.49L1616.75,162.6L1617.02,160.7L1617.3,158.81L1617.57,156.9L1617.84,155L1618.1,153.09L1618.36,151.17L1618.62,149.25L1618.87,147.33L1619.12,145.41L1619.36,143.48L1619.6,141.54L1619.84,139.61L1620.07,137.67L1620.3,135.72L1620.53,133.78L1620.76,131.83L1620.98,129.88L1621.19,127.92L1621.41,125.96L1621.62,124L1621.83,122.03L1622.04,120.07L1622.24,118.1L1622.44,116.12L1622.64,114.15L1622.84,112.17L1623.03,110.19L1623.22,108.21L1623.41,106.22L1623.6,104.24L1623.78,102.25L1623.96,100.26L1624.14,98.26L1624.32,96.27L1624.5,94.27L1624.67,92.27L1624.85,90.27L1625.02,88.27L1625.19,86.26L1625.36,84.26L1625.52,82.25L1625.69,80.24L1625.85,78.23L1626.02,76.22L1626.18,74.21L1626.34,72.2L1626.5,70.18L1626.66,68.17L1626.82,66.15L1626.97,64.14L1627.13,62.12L1627.29,60.1L1627.44,58.08L1627.6,56.07L1627.75,54.05L1627.9,52.03L1628.06,50.01L1628.21,47.99L1628.36,45.97L1628.52,43.95L1628.67,41.92L1628.82,39.9L1628.98,37.88L1629.13,35.86L1629.29,33.84L1629.44,31.82L1629.59,29.81L1629.75,27.79L1629.9,25.77L1630.06,23.75L1630.22,21.73L1630.38,19.72L1630.53,17.7L1630.69,15.69L1630.85,13.68L1631.02,11.66L1631.18,9.65L1631.34,7.64" fill="none" stroke="#ff0000" stroke-width="3" stroke-linejoin="round"/>
<line x1="1235.7" y1="64.7" x2="1266.1" y2="64.7" stroke="#ff0000" stroke-width="3"/>
<line x1="1235.7" y1="106.5" x2="1266.1" y2="106.5" stroke="#000" stroke-width="3"/>
<g transform="translate(1268.6,67.8) scale(0.95,1)"><text x="0" y="0" font-family="'Liberation Serif','Times New Roman',serif" font-size="26" font-weight="bold">n</text><text x="14.46" y="12.4" font-family="'Liberation Serif','Times New Roman',serif" font-size="20.3" font-weight="bold">th</text><text x="32.51" y="0" font-family="'Liberation Serif','Times New Roman',serif" font-size="26" font-weight="bold">=1; n</text><text x="89.95" y="12.4" font-family="'Liberation Serif','Times New Roman',serif" font-size="24" font-weight="normal">α</text><text x="102.52" y="0" font-family="'Liberation Serif','Times New Roman',serif" font-size="26" font-weight="bold">=1</text></g>
<g transform="translate(1268.6,109.6) scale(0.95,1)"><text x="0" y="0" font-family="'Liberation Serif','Times New Roman',serif" font-size="26" font-weight="bold">n</text><text x="14.46" y="12.4" font-family="'Liberation Serif','Times New Roman',serif" font-size="20.3" font-weight="bold">th</text><text x="32.51" y="0" font-family="'Liberation Serif','Times New Roman',serif" font-size="26" font-weight="bold">=0; n</text><text x="89.95" y="12.4" font-family="'Liberation Serif','Times New Roman',serif" font-size="24" font-weight="normal">α</text><text x="102.52" y="0" font-family="'Liberation Serif','Times New Roman',serif" font-size="26" font-weight="bold">=1</text></g>
<rect x="956.5" y="7.9" width="27.5" height="39.1" fill="#000"/>
<text x="960.4" y="33.9" font-family="'Liberation Sans',Arial,sans-serif" font-size="25.5" font-weight="bold" text-anchor="start" fill="#fff">b</text>
<line x1="55.6" y1="591.5" x2="55.6" y2="1048.2" stroke="#7f7f7f" stroke-width="1"/>
<line x1="55.1" y1="1047.7" x2="721.9" y2="1047.7" stroke="#7f7f7f" stroke-width="1"/>
<line x1="55.6" y1="996.95" x2="62.6" y2="996.95" stroke="#7f7f7f" stroke-width="1"/>
<line x1="55.6" y1="895.45" x2="62.6" y2="895.45" stroke="#7f7f7f" stroke-width="1"/>
<line x1="55.6" y1="793.95" x2="62.6" y2="793.95" stroke="#7f7f7f" stroke-width="1"/>
<line x1="55.6" y1="692.45" x2="62.6" y2="692.45" stroke="#7f7f7f" stroke-width="1"/>
<line x1="55.6" y1="590.95" x2="62.6" y2="590.95" stroke="#7f7f7f" stroke-width="1"/>
<line x1="222.1" y1="1047.7" x2="222.1" y2="1040.7" stroke="#7f7f7f" stroke-width="1"/>
<line x1="388.6" y1="1047.7" x2="388.6" y2="1040.7" stroke="#7f7f7f" stroke-width="1"/>
<line x1="555.1" y1="1047.7" x2="555.1" y2="1040.7" stroke="#7f7f7f" stroke-width="1"/>
<line x1="721.6" y1="1047.7" x2="721.6" y2="1040.7" stroke="#7f7f7f" stroke-width="1"/>
<text x="53.2" y="1006.55" font-family="'Liberation Sans',Arial,sans-serif" font-size="25" font-weight="bold" text-anchor="end">2</text>
<text x="53.2" y="905.05" font-family="'Liberation Sans',Arial,sans-serif" font-size="25" font-weight="bold" text-anchor="end">4</text>
<text x="53.2" y="803.55" font-family="'Liberation Sans',Arial,sans-serif" font-size="25" font-weight="bold" text-anchor="end">6</text>
<text x="53.2" y="702.05" font-family="'Liberation Sans',Arial,sans-serif" font-size="25" font-weight="bold" text-anchor="end">8</text>
<text x="53.2" y="600.55" font-family="'Liberation Sans',Arial,sans-serif" font-size="25" font-weight="bold" text-anchor="end">10</text>
<text x="55.6" y="1074.6" font-family="'Liberation Sans',Arial,sans-serif" font-size="25" font-weight="bold" text-anchor="middle">0</text>
<text x="222.1" y="1074.6" font-family="'Liberation Sans',Arial,sans-serif" font-size="25" font-weight="bold" text-anchor="middle">200</text>
<text x="388.6" y="1074.6" font-family="'Liberation Sans',Arial,sans-serif" font-size="25" font-weight="bold" text-anchor="middle">400</text>
<text x="555.1" y="1074.6" font-family="'Liberation Sans',Arial,sans-serif" font-size="25" font-weight="bold" text-anchor="middle">600</text>
<text x="721.6" y="1074.6" font-family="'Liberation Sans',Arial,sans-serif" font-size="25" font-weight="bold" text-anchor="middle">800</text>
<g transform="translate(17.7,819.6) rotate(-90)"><text x="-26.93" y="0" font-family="'Liberation Serif','Times New Roman',serif" font-size="25.5" font-weight="bold">Gain</text></g>
<g transform="translate(388.4,1104.3)"><text x="-45.48" y="0" font-family="'Liberation Serif','Times New Roman',serif" font-size="29" font-weight="normal">α</text><text x="-30.29" y="-13.26" font-family="'Liberation Serif','Times New Roman',serif" font-size="19.89" font-weight="bold">in</text><text x="-13.7" y="0" font-family="'Liberation Serif','Times New Roman',serif" font-size="25.5" font-weight="bold">[</text><text x="-5.21" y="0" font-family="'Liberation Serif','Times New Roman',serif" font-size="25.5" font-weight="normal">ω</text><text x="11.57" y="11.98" font-family="'Liberation Serif','Times New Roman',serif" font-size="19.89" font-weight="bold">m</text><text x="11.57" y="-13.26" font-family="'Liberation Serif','Times New Roman',serif" font-size="19.89" font-weight="bold">1/2</text><text x="36.99" y="0" font-family="'Liberation Serif','Times New Roman',serif" font-size="25.5" font-weight="bold">]</text></g>
<path d="M55.78,1047.88L57.86,1047.85L59.94,1047.82L62.02,1047.79L64.09,1047.77L66.17,1047.73L68.25,1047.7L70.32,1047.67L72.4,1047.64L74.47,1047.6L76.54,1047.56L78.61,1047.53L80.68,1047.49L82.75,1047.45L84.81,1047.41L86.88,1047.37L88.94,1047.32L91,1047.28L93.06,1047.23L95.12,1047.18L97.18,1047.13L99.24,1047.08L101.3,1047.03L103.35,1046.98L105.4,1046.92L107.45,1046.87L109.5,1046.81L111.55,1046.75L113.6,1046.69L115.65,1046.63L117.69,1046.57L119.73,1046.5L121.77,1046.44L123.81,1046.37L125.85,1046.3L127.89,1046.23L129.92,1046.15L131.95,1046.08L133.98,1046L136.01,1045.92L138.04,1045.85L140.07,1045.76L142.09,1045.68L144.11,1045.6L146.14,1045.51L148.15,1045.42L150.17,1045.33L152.19,1045.24L154.2,1045.15L156.21,1045.05L158.22,1044.95L160.23,1044.85L162.24,1044.75L164.24,1044.65L166.24,1044.54L168.24,1044.44L170.24,1044.33L172.24,1044.22L174.23,1044.1L176.22,1043.99L178.21,1043.87L180.2,1043.75L182.19,1043.63L184.17,1043.51L186.15,1043.38L188.13,1043.25L190.11,1043.12L192.09,1042.99L194.06,1042.86L196.03,1042.72L198,1042.58L199.97,1042.44L201.93,1042.3L203.89,1042.15L205.85,1042L207.81,1041.85L209.77,1041.7L211.72,1041.55L213.67,1041.39L215.62,1041.23L217.56,1041.07L219.51,1040.9L221.45,1040.74L223.38,1040.57L225.32,1040.4L227.25,1040.22L229.18,1040.05L231.11,1039.87L233.04,1039.69L234.96,1039.5L236.88,1039.31L238.8,1039.13L240.72,1038.93L242.63,1038.74L244.54,1038.54L246.45,1038.34L248.35,1038.14L250.25,1037.93L252.15,1037.73L254.05,1037.52L255.94,1037.3L257.83,1037.09L259.72,1036.87L261.61,1036.64L263.49,1036.42L265.37,1036.19L267.25,1035.96L269.12,1035.73L270.99,1035.49L272.86,1035.25L274.73,1035.01L276.59,1034.77L278.45,1034.52L280.31,1034.27L282.16,1034.02L284.01,1033.76L285.86,1033.5L287.7,1033.24L289.54,1032.97L291.38,1032.7L293.22,1032.43L295.05,1032.15L296.88,1031.88L298.71,1031.59L300.53,1031.31L302.35,1031.02L304.16,1030.73L305.98,1030.44L307.79,1030.14L309.59,1029.84L311.4,1029.53L313.2,1029.23L314.99,1028.92L316.79,1028.6L318.58,1028.29L320.37,1027.96L322.15,1027.64L323.93,1027.31L325.71,1026.98L327.48,1026.65L329.25,1026.31L331.01,1025.97L332.78,1025.62L334.54,1025.28L336.29,1024.92L338.04,1024.57L339.79,1024.21L341.54,1023.85L343.28,1023.48L345.02,1023.11L346.75,1022.74L348.48,1022.36L350.21,1021.98L351.93,1021.6L353.65,1021.21L355.37,1020.82L357.08,1020.42L358.79,1020.03L360.49,1019.62L362.2,1019.22L363.89,1018.81L365.59,1018.39L367.28,1017.97L368.96,1017.55L370.64,1017.13L372.32,1016.7L373.99,1016.26L375.66,1015.83L377.33,1015.39L378.99,1014.94L380.65,1014.49L382.31,1014.04L383.96,1013.58L385.6,1013.12L387.24,1012.65L388.88,1012.18L390.52,1011.71L392.15,1011.23L393.77,1010.75L395.39,1010.27L397.01,1009.78L398.62,1009.28L400.23,1008.78L401.84,1008.28L403.44,1007.78L405.04,1007.26L406.63,1006.75L408.22,1006.23L409.8,1005.71L411.38,1005.18L412.96,1004.65L414.53,1004.11L416.09,1003.57L417.65,1003.02L419.21,1002.47L420.77,1001.92L422.31,1001.36L423.86,1000.8L425.4,1000.23L426.93,999.66L428.46,999.08L429.99,998.5L431.51,997.92L433.03,997.33L434.54,996.73L436.05,996.13L437.55,995.53L439.05,994.92L440.55,994.3L442.03,993.68L443.52,993.06L445,992.43L446.47,991.8L447.94,991.16L449.4,990.52L450.86,989.87L452.31,989.21L453.76,988.55L455.21,987.89L456.64,987.22L458.07,986.54L459.5,985.86L460.92,985.18L462.34,984.48L463.75,983.79L465.15,983.09L466.55,982.38L467.95,981.66L469.33,980.94L470.72,980.22L472.09,979.49L473.46,978.75L474.83,978.01L476.18,977.26L477.54,976.5L478.88,975.74L480.22,974.97L481.56,974.2L482.89,973.42L484.21,972.64L485.53,971.85L486.83,971.05L488.14,970.24L489.43,969.43L490.73,968.62L492.01,967.79L493.29,966.96L494.56,966.13L495.82,965.28L497.08,964.43L498.33,963.58L499.58,962.72L500.81,961.85L502.05,960.97L503.27,960.09L504.49,959.2L505.7,958.3L506.9,957.4L508.1,956.48L509.29,955.57L510.47,954.64L511.64,953.71L512.81,952.77L513.97,951.82L515.13,950.87L516.27,949.91L517.41,948.94L518.54,947.96L519.67,946.98L520.78,945.99L521.89,944.99L523,943.99L524.09,942.97L525.18,941.96L526.26,940.93L527.34,939.9L528.4,938.86L529.46,937.81L530.52,936.75L531.56,935.69L532.6,934.63L533.64,933.55L534.66,932.47L535.68,931.38L536.69,930.29L537.7,929.19L538.7,928.08L539.69,926.97L540.68,925.84L541.66,924.72L542.63,923.58L543.6,922.44L544.56,921.3L545.52,920.15L546.47,918.99L547.41,917.82L548.35,916.65L549.28,915.48L550.2,914.29L551.12,913.11L552.04,911.91L552.94,910.71L553.84,909.5L554.74,908.29L555.63,907.07L556.51,905.85L557.39,904.62L558.26,903.39L559.13,902.15L559.99,900.9L560.85,899.65L561.7,898.39L562.54,897.13L563.38,895.86L564.22,894.59L565.05,893.31L565.87,892.03L566.69,890.74L567.5,889.44L568.31,888.15L569.11,886.84L569.91,885.53L570.71,884.22L571.49,882.9L572.28,881.58L573.06,880.25L573.83,878.91L574.6,877.57L575.36,876.23L576.12,874.88L576.88,873.53L577.62,872.17L578.37,870.81L579.11,869.44L579.84,868.07L580.57,866.69L581.3,865.31L582.02,863.92L582.73,862.53L583.45,861.13L584.15,859.73L584.85,858.32L585.55,856.91L586.24,855.5L586.93,854.08L587.61,852.66L588.29,851.23L588.97,849.79L589.64,848.36L590.3,846.92L590.96,845.47L591.62,844.02L592.27,842.56L592.92,841.1L593.56,839.64L594.2,838.17L594.84,836.7L595.47,835.22L596.09,833.74L596.72,832.25L597.33,830.76L597.95,829.27L598.56,827.77L599.16,826.27L599.76,824.76L600.36,823.25L600.95,821.74L601.54,820.22L602.13,818.7L602.71,817.17L603.28,815.64L603.85,814.1L604.42,812.56L604.99,811.02L605.55,809.47L606.1,807.92L606.66,806.37L607.21,804.81L607.75,803.25L608.29,801.68L608.83,800.11L609.36,798.54L609.89,796.96L610.42,795.38L610.94,793.79L611.46,792.2L611.97,790.61L612.48,789.01L612.99,787.41L613.49,785.81L613.99,784.2L614.49,782.59L614.98,780.97L615.47,779.36L615.96,777.73L616.44,776.11L616.92,774.48L617.39,772.85L617.86,771.21L618.33,769.57L618.8,767.93L619.26,766.28L619.72,764.64L620.17,762.98L620.62,761.33L621.07,759.67L621.51,758L621.96,756.34L622.39,754.67L622.83,753L623.26,751.32L623.69,749.64L624.11,747.96L624.54,746.27L624.96,744.59L625.37,742.89L625.78,741.2L626.19,739.5L626.6,737.8L627,736.1L627.41,734.39L627.8,732.68L628.2,730.97L628.59,729.25L628.98,727.53L629.36,725.81L629.75,724.09L630.13,722.36L630.51,720.63L630.88,718.9L631.25,717.16L631.62,715.42L631.99,713.68L632.35,711.94L632.71,710.19L633.07,708.44L633.42,706.69L633.78,704.94L634.13,703.18L634.47,701.42L634.82,699.66L635.16,697.89L635.5,696.12L635.84,694.35L636.17,692.58L636.51,690.81L636.83,689.03L637.16,687.25L637.49,685.47L637.81,683.68L638.13,681.89L638.45,680.1L638.76,678.31L639.08,676.52L639.39,674.72L639.69,672.92L640,671.12L640.3,669.32L640.61,667.51L640.91,665.7L641.2,663.89L641.5,662.08L641.79,660.26L642.08,658.45L642.37,656.63L642.66,654.81L642.94,652.99L643.22,651.16L643.5,649.33L643.78,647.5L644.06,645.67L644.33,643.84L644.61,642.01L644.88,640.17L645.15,638.33L645.41,636.49L645.68,634.65L645.94,632.8L646.2,630.96L646.46,629.11L646.72,627.26L646.98,625.41L647.23,623.56L647.48,621.7L647.73,619.84L647.98,617.99L648.23,616.13L648.48,614.27L648.72,612.4L648.96,610.54L649.2,608.67L649.44,606.8L649.68,604.93L649.92,603.06L650.15,601.19L650.39,599.32L650.62,597.44L650.85,595.57L651.08,593.69L651.31,591.81" fill="none" stroke="#0000ff" stroke-width="2.5" stroke-linejoin="round"/>
<path d="M55.72,1047.82L57.73,1047.88L59.73,1047.93L61.73,1047.98L63.72,1048.03L65.71,1048.07L67.7,1048.11L69.68,1048.14L71.66,1048.17L73.63,1048.19L75.6,1048.21L77.56,1048.22L79.52,1048.23L81.48,1048.24L83.43,1048.24L85.38,1048.24L87.32,1048.24L89.26,1048.23L91.2,1048.22L93.13,1048.2L95.05,1048.18L96.98,1048.15L98.9,1048.12L100.81,1048.09L102.73,1048.05L104.64,1048.01L106.54,1047.97L108.44,1047.92L110.34,1047.87L112.23,1047.81L114.12,1047.76L116.01,1047.69L117.89,1047.63L119.77,1047.56L121.65,1047.48L123.52,1047.41L125.39,1047.33L127.25,1047.24L129.12,1047.16L130.97,1047.07L132.83,1046.97L134.68,1046.88L136.53,1046.78L138.38,1046.67L140.22,1046.57L142.06,1046.46L143.89,1046.34L145.73,1046.23L147.55,1046.11L149.38,1045.99L151.2,1045.86L153.02,1045.73L154.84,1045.6L156.66,1045.47L158.47,1045.33L160.28,1045.19L162.08,1045.04L163.89,1044.9L165.69,1044.75L167.48,1044.6L169.28,1044.44L171.07,1044.29L172.86,1044.13L174.64,1043.96L176.43,1043.8L178.21,1043.63L179.99,1043.46L181.76,1043.29L183.54,1043.11L185.31,1042.93L187.08,1042.75L188.84,1042.57L190.61,1042.39L192.37,1042.2L194.13,1042.01L195.88,1041.82L197.64,1041.62L199.39,1041.42L201.14,1041.22L202.89,1041.02L204.63,1040.82L206.37,1040.61L208.12,1040.41L209.85,1040.2L211.59,1039.98L213.33,1039.77L215.06,1039.55L216.79,1039.34L218.52,1039.12L220.25,1038.89L221.97,1038.67L223.69,1038.44L225.42,1038.22L227.14,1037.99L228.85,1037.76L230.57,1037.52L232.28,1037.29L234,1037.05L235.71,1036.82L237.42,1036.58L239.12,1036.33L240.83,1036.09L242.54,1035.85L244.24,1035.6L245.94,1035.35L247.64,1035.11L249.34,1034.86L251.04,1034.6L252.73,1034.35L254.43,1034.1L256.12,1033.84L257.81,1033.59L259.5,1033.33L261.19,1033.07L262.88,1032.81L264.57,1032.55L266.26,1032.28L267.94,1032.02L269.62,1031.75L271.31,1031.49L272.99,1031.22L274.67,1030.95L276.35,1030.68L278.03,1030.41L279.71,1030.14L281.38,1029.87L283.06,1029.6L284.74,1029.33L286.41,1029.05L288.08,1028.78L289.76,1028.5L291.43,1028.22L293.1,1027.94L294.77,1027.66L296.43,1027.38L298.1,1027.1L299.76,1026.81L301.42,1026.52L303.08,1026.23L304.74,1025.94L306.4,1025.65L308.05,1025.36L309.7,1025.06L311.35,1024.76L313,1024.46L314.64,1024.15L316.29,1023.85L317.93,1023.54L319.56,1023.23L321.2,1022.91L322.83,1022.59L324.46,1022.27L326.08,1021.95L327.7,1021.62L329.32,1021.29L330.94,1020.96L332.55,1020.62L334.16,1020.28L335.77,1019.94L337.37,1019.6L338.97,1019.24L340.56,1018.89L342.15,1018.53L343.74,1018.17L345.32,1017.8L346.9,1017.43L348.48,1017.06L350.05,1016.68L351.61,1016.3L353.18,1015.91L354.73,1015.52L356.29,1015.12L357.83,1014.72L359.38,1014.32L360.91,1013.91L362.45,1013.49L363.98,1013.07L365.5,1012.65L367.02,1012.21L368.53,1011.78L370.04,1011.34L371.54,1010.89L373.04,1010.44L374.53,1009.98L376.01,1009.52L377.49,1009.05L378.97,1008.57L380.43,1008.09L381.9,1007.6L383.35,1007.11L384.8,1006.61L386.24,1006.11L387.68,1005.59L389.11,1005.07L390.54,1004.55L391.95,1004.02L393.36,1003.48L394.77,1002.93L396.16,1002.38L397.55,1001.82L398.94,1001.26L400.31,1000.69L401.68,1000.11L403.04,999.52L404.4,998.92L405.75,998.32L407.09,997.71L408.42,997.1L409.75,996.48L411.06,995.85L412.38,995.21L413.68,994.56L414.98,993.91L416.27,993.25L417.55,992.59L418.83,991.92L420.1,991.24L421.36,990.55L422.62,989.86L423.87,989.16L425.11,988.45L426.34,987.74L427.57,987.02L428.79,986.29L430.01,985.55L431.21,984.81L432.41,984.06L433.61,983.31L434.79,982.55L435.97,981.78L437.15,981L438.31,980.22L439.47,979.43L440.62,978.63L441.77,977.83L442.91,977.02L444.04,976.2L445.16,975.37L446.28,974.54L447.39,973.71L448.5,972.86L449.6,972.01L450.69,971.15L451.77,970.29L452.85,969.42L453.92,968.54L454.98,967.65L456.04,966.76L457.09,965.87L458.14,964.96L459.17,964.05L460.2,963.13L461.23,962.21L462.25,961.28L463.26,960.34L464.26,959.39L465.26,958.44L466.25,957.48L467.24,956.52L468.21,955.55L469.19,954.57L470.15,953.59L471.11,952.6L472.06,951.6L473.01,950.6L473.95,949.59L474.88,948.57L475.8,947.55L476.72,946.52L477.64,945.48L478.54,944.44L479.44,943.39L480.34,942.34L481.22,941.28L482.11,940.21L482.98,939.13L483.85,938.05L484.71,936.97L485.57,935.87L486.41,934.77L487.26,933.67L488.09,932.55L488.92,931.43L489.75,930.31L490.56,929.18L491.38,928.04L492.18,926.9L492.98,925.75L493.77,924.59L494.56,923.43L495.34,922.26L496.11,921.08L496.88,919.9L497.64,918.71L498.4,917.52L499.14,916.32L499.89,915.11L500.62,913.9L501.35,912.68L502.08,911.46L502.8,910.23L503.51,908.99L504.21,907.75L504.91,906.5L505.61,905.24L506.3,903.98L506.98,902.72L507.65,901.44L508.32,900.16L508.99,898.88L509.65,897.59L510.3,896.29L510.95,894.99L511.59,893.68L512.23,892.37L512.86,891.05L513.48,889.73L514.1,888.4L514.72,887.07L515.32,885.73L515.93,884.38L516.53,883.03L517.12,881.67L517.71,880.31L518.29,878.95L518.87,877.58L519.44,876.2L520.01,874.82L520.57,873.43L521.13,872.04L521.68,870.65L522.23,869.25L522.77,867.84L523.31,866.43L523.85,865.01L524.38,863.59L524.9,862.17L525.42,860.74L525.94,859.31L526.45,857.87L526.95,856.43L527.46,854.98L527.95,853.53L528.45,852.08L528.94,850.62L529.42,849.15L529.9,847.69L530.38,846.21L530.85,844.74L531.32,843.26L531.79,841.77L532.25,840.29L532.71,838.79L533.16,837.3L533.61,835.8L534.05,834.29L534.5,832.79L534.93,831.28L535.37,829.76L535.8,828.24L536.23,826.72L536.65,825.2L537.07,823.67L537.49,822.14L537.9,820.6L538.31,819.06L538.72,817.52L539.12,815.98L539.52,814.43L539.92,812.88L540.32,811.32L540.71,809.77L541.09,808.2L541.48,806.64L541.86,805.07L542.24,803.51L542.62,801.93L542.99,800.36L543.36,798.78L543.73,797.2L544.1,795.62L544.46,794.03L544.82,792.44L545.18,790.85L545.53,789.26L545.89,787.66L546.24,786.06L546.59,784.46L546.93,782.86L547.28,781.25L547.62,779.65L547.96,778.04L548.29,776.43L548.63,774.81L548.96,773.2L549.29,771.58L549.62,769.96L549.95,768.34L550.27,766.71L550.6,765.09L550.92,763.46L551.24,761.83L551.55,760.2L551.87,758.56L552.18,756.93L552.5,755.29L552.81,753.65L553.11,752.01L553.42,750.37L553.72,748.72L554.02,747.08L554.32,745.43L554.62,743.78L554.92,742.12L555.21,740.47L555.5,738.81L555.79,737.15L556.08,735.49L556.37,733.83L556.65,732.16L556.93,730.49L557.21,728.82L557.49,727.15L557.76,725.48L558.03,723.8L558.3,722.12L558.57,720.44L558.84,718.76L559.1,717.08L559.37,715.39L559.63,713.7L559.88,712.01L560.14,710.32L560.39,708.62L560.64,706.92L560.89,705.22L561.14,703.52L561.39,701.82L561.63,700.11L561.87,698.4L562.11,696.69L562.34,694.98L562.58,693.26L562.81,691.54L563.04,689.82L563.26,688.1L563.49,686.38L563.71,684.65L563.93,682.92L564.15,681.19L564.36,679.46L564.57,677.72L564.78,675.98L564.99,674.24L565.2,672.5L565.4,670.75L565.6,669L565.8,667.25L566,665.5L566.19,663.75L566.38,661.99L566.57,660.23L566.76,658.47L566.94,656.7L567.12,654.93L567.3,653.16L567.48,651.39L567.65,649.62L567.82,647.84L567.99,646.06L568.16,644.28L568.32,642.49L568.48,640.71L568.64,638.92L568.8,637.12L568.95,635.33L569.11,633.53L569.26,631.73L569.4,629.93L569.55,628.12L569.69,626.32L569.83,624.51L569.96,622.69L570.1,620.88L570.23,619.06L570.35,617.24L570.48,615.42L570.6,613.59L570.72,611.76L570.84,609.93L570.96,608.1L571.07,606.26L571.18,604.42L571.28,602.58L571.39,600.73L571.49,598.89L571.59,597.04L571.69,595.18L571.78,593.33L571.87,591.47" fill="none" stroke="#808080" stroke-width="2.5" stroke-linejoin="round"/>
<path d="M55.81,1047.91L57.44,1047.93L59.07,1047.94L60.7,1047.96L62.33,1047.97L63.95,1047.99L65.58,1048L67.2,1048.01L68.82,1048.01L70.44,1048.02L72.06,1048.03L73.68,1048.03L75.3,1048.03L76.91,1048.03L78.52,1048.03L80.14,1048.03L81.75,1048.02L83.35,1048.02L84.96,1048.01L86.57,1048L88.17,1047.99L89.77,1047.98L91.37,1047.97L92.97,1047.95L94.56,1047.93L96.16,1047.91L97.75,1047.89L99.34,1047.87L100.93,1047.84L102.52,1047.81L104.1,1047.79L105.68,1047.76L107.26,1047.72L108.84,1047.69L110.42,1047.65L112,1047.61L113.57,1047.57L115.14,1047.53L116.71,1047.48L118.27,1047.43L119.84,1047.38L121.4,1047.33L122.96,1047.28L124.52,1047.22L126.07,1047.16L127.63,1047.1L129.18,1047.04L130.72,1046.97L132.27,1046.91L133.81,1046.84L135.36,1046.76L136.89,1046.69L138.43,1046.61L139.96,1046.53L141.5,1046.45L143.02,1046.36L144.55,1046.28L146.07,1046.19L147.6,1046.09L149.11,1046L150.63,1045.9L152.14,1045.8L153.65,1045.7L155.16,1045.59L156.67,1045.48L158.17,1045.37L159.67,1045.26L161.17,1045.14L162.66,1045.02L164.15,1044.9L165.64,1044.77L167.12,1044.64L168.61,1044.51L170.09,1044.38L171.56,1044.24L173.04,1044.1L174.51,1043.95L175.97,1043.81L177.44,1043.66L178.9,1043.51L180.36,1043.35L181.81,1043.19L183.26,1043.03L184.71,1042.86L186.16,1042.7L187.6,1042.52L189.04,1042.35L190.47,1042.17L191.91,1041.99L193.34,1041.8L194.76,1041.62L196.18,1041.42L197.6,1041.23L199.02,1041.03L200.43,1040.83L201.84,1040.62L203.24,1040.41L204.64,1040.2L206.04,1039.99L207.44,1039.77L208.83,1039.54L210.21,1039.32L211.6,1039.09L212.98,1038.85L214.35,1038.62L215.73,1038.37L217.09,1038.13L218.46,1037.88L219.82,1037.63L221.18,1037.37L222.53,1037.11L223.88,1036.85L225.23,1036.58L226.57,1036.31L227.91,1036.03L229.24,1035.75L230.57,1035.47L231.9,1035.18L233.22,1034.89L234.54,1034.59L235.85,1034.29L237.16,1033.99L238.47,1033.68L239.77,1033.37L241.07,1033.05L242.36,1032.73L243.65,1032.41L244.93,1032.08L246.21,1031.74L247.49,1031.41L248.76,1031.06L250.03,1030.72L251.29,1030.37L252.55,1030.01L253.81,1029.65L255.06,1029.29L256.3,1028.92L257.54,1028.55L258.78,1028.17L260.01,1027.79L261.24,1027.41L262.46,1027.01L263.68,1026.62L264.9,1026.22L266.11,1025.81L267.31,1025.41L268.51,1024.99L269.71,1024.57L270.9,1024.15L272.08,1023.72L273.26,1023.29L274.44,1022.85L275.61,1022.41L276.78,1021.96L277.94,1021.51L279.1,1021.05L280.25,1020.59L281.39,1020.12L282.53,1019.65L283.67,1019.17L284.8,1018.69L285.93,1018.2L287.05,1017.71L288.16,1017.21L289.27,1016.7L290.37,1016.19L291.47,1015.67L292.56,1015.15L293.65,1014.62L294.73,1014.09L295.8,1013.55L296.87,1013.01L297.93,1012.45L298.99,1011.9L300.04,1011.33L301.08,1010.76L302.12,1010.19L303.15,1009.61L304.18,1009.02L305.2,1008.42L306.21,1007.82L307.22,1007.21L308.22,1006.6L309.21,1005.98L310.19,1005.35L311.17,1004.72L312.15,1004.08L313.11,1003.43L314.07,1002.77L315.02,1002.11L315.97,1001.44L316.91,1000.77L317.84,1000.08L318.76,999.39L319.68,998.7L320.59,997.99L321.49,997.28L322.39,996.56L323.28,995.84L324.16,995.1L325.03,994.36L325.9,993.62L326.76,992.86L327.61,992.1L328.45,991.33L329.29,990.56L330.12,989.78L330.95,988.99L331.77,988.19L332.58,987.39L333.38,986.58L334.18,985.76L334.96,984.93L335.75,984.1L336.52,983.26L337.29,982.42L338.05,981.56L338.8,980.7L339.55,979.84L340.29,978.96L341.02,978.08L341.75,977.19L342.47,976.3L343.18,975.39L343.88,974.48L344.58,973.57L345.27,972.65L345.95,971.71L346.63,970.78L347.3,969.83L347.96,968.88L348.62,967.92L349.27,966.96L349.91,965.99L350.54,965.01L351.17,964.02L351.79,963.03L352.41,962.03L353.01,961.02L353.61,960.01L354.2,958.99L354.79,957.96L355.37,956.92L355.94,955.88L356.51,954.83L357.07,953.78L357.62,952.72L358.17,951.65L358.71,950.58L359.24,949.5L359.77,948.41L360.29,947.32L360.8,946.22L361.31,945.11L361.81,944L362.31,942.88L362.8,941.76L363.28,940.63L363.76,939.49L364.23,938.35L364.69,937.2L365.16,936.05L365.61,934.89L366.06,933.72L366.5,932.55L366.94,931.38L367.37,930.2L367.8,929.01L368.22,927.82L368.64,926.62L369.05,925.42L369.46,924.21L369.86,923L370.26,921.78L370.65,920.56L371.03,919.33L371.41,918.1L371.79,916.86L372.16,915.62L372.53,914.37L372.89,913.12L373.25,911.87L373.61,910.61L373.95,909.34L374.3,908.07L374.64,906.8L374.98,905.52L375.31,904.24L375.64,902.95L375.96,901.66L376.28,900.37L376.59,899.07L376.91,897.77L377.21,896.46L377.52,895.15L377.82,893.84L378.12,892.52L378.41,891.2L378.7,889.88L378.99,888.55L379.27,887.22L379.55,885.89L379.83,884.55L380.1,883.21L380.37,881.87L380.64,880.52L380.9,879.17L381.16,877.82L381.42,876.46L381.67,875.1L381.93,873.74L382.18,872.38L382.42,871.01L382.67,869.64L382.91,868.27L383.15,866.9L383.39,865.52L383.62,864.14L383.86,862.76L384.09,861.38L384.32,859.99L384.54,858.6L384.77,857.21L384.99,855.82L385.21,854.43L385.43,853.03L385.64,851.64L385.86,850.24L386.07,848.84L386.29,847.44L386.5,846.03L386.7,844.63L386.91,843.22L387.12,841.81L387.32,840.4L387.52,838.99L387.72,837.58L387.92,836.16L388.12,834.75L388.32,833.33L388.51,831.91L388.7,830.49L388.9,829.07L389.09,827.64L389.27,826.22L389.46,824.79L389.65,823.36L389.83,821.93L390.01,820.5L390.19,819.07L390.37,817.63L390.55,816.2L390.73,814.76L390.9,813.32L391.07,811.88L391.25,810.44L391.42,808.99L391.59,807.55L391.75,806.1L391.92,804.66L392.09,803.21L392.25,801.76L392.41,800.31L392.57,798.85L392.73,797.4L392.89,795.94L393.05,794.49L393.2,793.03L393.36,791.57L393.51,790.11L393.66,788.65L393.81,787.18L393.96,785.72L394.11,784.25L394.25,782.78L394.4,781.31L394.54,779.84L394.69,778.37L394.83,776.9L394.97,775.43L395.11,773.95L395.24,772.48L395.38,771L395.52,769.52L395.65,768.04L395.78,766.56L395.91,765.08L396.04,763.59L396.17,762.11L396.3,760.62L396.43,759.14L396.55,757.65L396.68,756.16L396.8,754.67L396.92,753.18L397.05,751.68L397.17,750.19L397.28,748.69L397.4,747.2L397.52,745.7L397.63,744.2L397.75,742.7L397.86,741.2L397.98,739.7L398.09,738.2L398.2,736.7L398.31,735.19L398.41,733.69L398.52,732.18L398.63,730.67L398.73,729.16L398.84,727.65L398.94,726.14L399.04,724.63L399.14,723.12L399.25,721.61L399.34,720.09L399.44,718.58L399.54,717.06L399.64,715.54L399.73,714.03L399.83,712.51L399.92,710.99L400.02,709.47L400.11,707.94L400.2,706.42L400.29,704.9L400.38,703.37L400.47,701.85L400.55,700.32L400.64,698.8L400.73,697.27L400.81,695.74L400.9,694.21L400.98,692.68L401.06,691.15L401.15,689.62L401.23,688.08L401.31,686.55L401.39,685.02L401.47,683.48L401.54,681.95L401.62,680.41L401.7,678.87L401.77,677.33L401.85,675.8L401.92,674.26L402,672.72L402.07,671.18L402.14,669.63L402.21,668.09L402.29,666.55L402.36,665.01L402.43,663.46L402.5,661.92L402.56,660.37L402.63,658.83L402.7,657.28L402.76,655.73L402.83,654.18L402.9,652.64L402.96,651.09L403.02,649.54L403.09,647.99L403.15,646.43L403.21,644.88L403.28,643.33L403.34,641.78L403.4,640.23L403.46,638.67L403.52,637.12L403.58,635.56L403.63,634.01L403.69,632.45L403.75,630.9L403.81,629.34L403.86,627.78L403.92,626.22L403.98,624.67L404.03,623.11L404.09,621.55L404.14,619.99L404.19,618.43L404.25,616.87L404.3,615.31L404.35,613.75L404.4,612.18L404.46,610.62L404.51,609.06L404.56,607.5L404.61,605.93L404.66,604.37L404.71,602.81L404.76,601.24L404.81,599.68L404.86,598.11L404.91,596.55L404.95,594.98L405,593.42L405.05,591.85" fill="none" stroke="#000" stroke-width="2.5" stroke-linejoin="round"/>
<path d="M55.63,1047.73L57.02,1047.74L58.4,1047.74L59.79,1047.75L61.18,1047.76L62.57,1047.77L63.95,1047.77L65.34,1047.78L66.73,1047.79L68.11,1047.79L69.5,1047.8L70.88,1047.8L72.26,1047.8L73.64,1047.81L75.03,1047.81L76.41,1047.81L77.79,1047.81L79.16,1047.8L80.54,1047.8L81.92,1047.8L83.29,1047.79L84.66,1047.79L86.04,1047.78L87.41,1047.77L88.78,1047.76L90.14,1047.74L91.51,1047.73L92.87,1047.71L94.23,1047.7L95.6,1047.68L96.95,1047.65L98.31,1047.63L99.66,1047.61L101.02,1047.58L102.37,1047.55L103.72,1047.52L105.06,1047.48L106.41,1047.45L107.75,1047.41L109.09,1047.37L110.42,1047.32L111.76,1047.28L113.09,1047.23L114.42,1047.18L115.74,1047.12L117.07,1047.07L118.39,1047.01L119.7,1046.95L121.02,1046.88L122.33,1046.81L123.64,1046.74L124.94,1046.67L126.25,1046.59L127.54,1046.51L128.84,1046.42L130.13,1046.33L131.42,1046.24L132.71,1046.15L133.99,1046.05L135.27,1045.95L136.54,1045.84L137.81,1045.73L139.08,1045.62L140.34,1045.5L141.6,1045.38L142.85,1045.26L144.1,1045.13L145.35,1044.99L146.59,1044.86L147.83,1044.71L149.07,1044.57L150.3,1044.42L151.52,1044.26L152.74,1044.11L153.96,1043.94L155.17,1043.77L156.38,1043.6L157.58,1043.42L158.78,1043.24L159.97,1043.05L161.16,1042.86L162.34,1042.66L163.52,1042.46L164.69,1042.26L165.86,1042.04L167.02,1041.83L168.18,1041.6L169.33,1041.38L170.48,1041.14L171.62,1040.9L172.76,1040.66L173.89,1040.41L175.01,1040.15L176.13,1039.89L177.24,1039.63L178.35,1039.35L179.45,1039.08L180.55,1038.79L181.64,1038.5L182.72,1038.2L183.8,1037.9L184.87,1037.59L185.93,1037.28L186.99,1036.96L188.05,1036.63L189.09,1036.3L190.13,1035.96L191.16,1035.61L192.19,1035.26L193.21,1034.9L194.22,1034.53L195.23,1034.16L196.23,1033.77L197.22,1033.39L198.21,1032.99L199.19,1032.59L200.16,1032.18L201.12,1031.77L202.08,1031.35L203.03,1030.92L203.97,1030.48L204.91,1030.04L205.84,1029.58L206.76,1029.12L207.67,1028.66L208.58,1028.18L209.48,1027.7L210.37,1027.21L211.25,1026.71L212.12,1026.21L212.99,1025.69L213.85,1025.17L214.7,1024.64L215.54,1024.11L216.37,1023.56L217.2,1023.01L218.02,1022.44L218.83,1021.87L219.63,1021.29L220.42,1020.71L221.21,1020.11L221.98,1019.51L222.75,1018.89L223.51,1018.27L224.26,1017.64L225,1017L225.73,1016.36L226.45,1015.7L227.17,1015.03L227.88,1014.36L228.57,1013.68L229.26,1012.99L229.95,1012.29L230.62,1011.59L231.28,1010.87L231.94,1010.15L232.59,1009.42L233.23,1008.68L233.86,1007.93L234.49,1007.18L235.11,1006.41L235.72,1005.64L236.32,1004.87L236.91,1004.08L237.5,1003.29L238.08,1002.49L238.65,1001.68L239.22,1000.87L239.78,1000.05L240.33,999.22L240.88,998.39L241.42,997.55L241.95,996.7L242.48,995.85L243.01,994.99L243.52,994.13L244.03,993.26L244.54,992.39L245.04,991.51L245.53,990.62L246.02,989.73L246.51,988.83L246.99,987.93L247.46,987.03L247.93,986.12L248.4,985.2L248.86,984.28L249.31,983.36L249.76,982.43L250.21,981.49L250.65,980.55L251.08,979.61L251.51,978.66L251.94,977.71L252.36,976.75L252.78,975.79L253.19,974.82L253.6,973.85L254,972.87L254.4,971.89L254.79,970.9L255.18,969.91L255.57,968.92L255.95,967.92L256.32,966.91L256.7,965.9L257.06,964.89L257.43,963.88L257.79,962.85L258.14,961.83L258.49,960.8L258.84,959.76L259.18,958.73L259.52,957.68L259.85,956.64L260.18,955.59L260.5,954.53L260.83,953.48L261.14,952.41L261.46,951.35L261.77,950.28L262.07,949.2L262.38,948.12L262.67,947.04L262.97,945.96L263.26,944.87L263.55,943.77L263.83,942.68L264.11,941.58L264.39,940.47L264.66,939.37L264.93,938.26L265.19,937.14L265.45,936.02L265.71,934.9L265.97,933.78L266.22,932.65L266.47,931.52L266.71,930.38L266.96,929.25L267.2,928.1L267.43,926.96L267.66,925.81L267.89,924.66L268.12,923.51L268.34,922.35L268.56,921.19L268.78,920.03L268.99,918.86L269.2,917.69L269.41,916.52L269.62,915.35L269.82,914.17L270.02,912.99L270.22,911.81L270.41,910.62L270.6,909.43L270.79,908.24L270.98,907.05L271.16,905.85L271.34,904.66L271.52,903.45L271.7,902.25L271.87,901.04L272.04,899.84L272.21,898.62L272.38,897.41L272.54,896.2L272.71,894.98L272.87,893.76L273.02,892.53L273.18,891.31L273.33,890.08L273.48,888.85L273.63,887.62L273.78,886.39L273.92,885.15L274.07,883.92L274.21,882.68L274.35,881.44L274.48,880.19L274.62,878.95L274.75,877.7L274.88,876.45L275.01,875.2L275.14,873.95L275.27,872.7L275.39,871.44L275.52,870.19L275.64,868.93L275.76,867.67L275.88,866.41L275.99,865.14L276.11,863.88L276.22,862.61L276.33,861.35L276.45,860.08L276.56,858.81L276.66,857.54L276.77,856.26L276.88,854.99L276.98,853.71L277.09,852.44L277.19,851.16L277.29,849.88L277.39,848.6L277.49,847.32L277.59,846.04L277.69,844.76L277.78,843.48L277.88,842.19L277.97,840.91L278.07,839.62L278.16,838.33L278.25,837.04L278.34,835.75L278.43,834.46L278.52,833.17L278.61,831.88L278.69,830.59L278.78,829.29L278.86,828L278.95,826.7L279.03,825.4L279.11,824.11L279.19,822.81L279.27,821.51L279.35,820.21L279.43,818.91L279.51,817.6L279.59,816.3L279.66,815L279.74,813.69L279.81,812.39L279.89,811.08L279.96,809.77L280.03,808.47L280.11,807.16L280.18,805.85L280.25,804.54L280.32,803.23L280.38,801.92L280.45,800.61L280.52,799.29L280.59,797.98L280.65,796.66L280.72,795.35L280.78,794.03L280.84,792.72L280.91,791.4L280.97,790.08L281.03,788.77L281.09,787.45L281.15,786.13L281.21,784.81L281.27,783.49L281.33,782.17L281.39,780.84L281.45,779.52L281.5,778.2L281.56,776.88L281.62,775.55L281.67,774.23L281.73,772.9L281.78,771.58L281.84,770.25L281.89,768.92L281.94,767.6L281.99,766.27L282.05,764.94L282.1,763.61L282.15,762.28L282.2,760.95L282.25,759.63L282.3,758.3L282.35,756.96L282.4,755.63L282.45,754.3L282.5,752.97L282.54,751.64L282.59,750.31L282.64,748.97L282.68,747.64L282.73,746.31L282.78,744.97L282.82,743.64L282.87,742.3L282.91,740.97L282.96,739.63L283,738.3L283.05,736.96L283.09,735.63L283.14,734.29L283.18,732.95L283.22,731.62L283.27,730.28L283.31,728.94L283.35,727.61L283.39,726.27L283.44,724.93L283.48,723.59L283.52,722.26L283.56,720.92L283.6,719.58L283.64,718.24L283.69,716.9L283.73,715.56L283.77,714.22L283.81,712.89L283.85,711.55L283.89,710.21L283.93,708.87L283.97,707.53L284.01,706.19L284.05,704.85L284.09,703.51L284.13,702.17L284.18,700.83L284.22,699.49L284.26,698.15L284.3,696.81L284.34,695.47L284.38,694.13L284.42,692.8L284.46,691.46L284.5,690.12L284.54,688.78L284.58,687.44L284.62,686.1L284.66,684.76L284.7,683.42L284.75,682.08L284.79,680.74L284.83,679.41L284.87,678.07L284.91,676.73L284.95,675.39L284.99,674.05L285.04,672.71L285.08,671.38L285.12,670.04L285.16,668.7L285.21,667.37L285.25,666.03L285.29,664.69L285.34,663.36L285.38,662.02L285.43,660.68L285.47,659.35L285.51,658.01L285.56,656.68L285.61,655.34L285.65,654.01L285.7,652.67L285.74,651.34L285.79,650.01L285.84,648.67L285.88,647.34L285.93,646.01L285.98,644.68L286.03,643.35L286.08,642.01L286.12,640.68L286.17,639.35L286.22,638.02L286.27,636.69L286.33,635.36L286.38,634.04L286.43,632.71L286.48,631.38L286.53,630.05L286.59,628.72L286.64,627.4L286.69,626.07L286.75,624.75L286.8,623.42L286.86,622.1L286.91,620.77L286.97,619.45L287.03,618.13L287.09,616.81L287.14,615.48L287.2,614.16L287.26,612.84L287.32,611.52L287.38,610.2L287.45,608.88L287.51,607.57L287.57,606.25L287.63,604.93L287.7,603.62L287.76,602.3L287.83,600.99L287.89,599.67L287.96,598.36L288.03,597.05L288.09,595.73L288.16,594.42L288.23,593.11L288.3,591.8" fill="none" stroke="#de7d00" stroke-width="2.5" stroke-linejoin="round"/>
<path d="M55.07,1047.17L56.43,1047.23L57.78,1047.29L59.13,1047.34L60.49,1047.4L61.84,1047.45L63.18,1047.5L64.53,1047.55L65.87,1047.59L67.22,1047.64L68.56,1047.68L69.89,1047.72L71.23,1047.76L72.56,1047.8L73.9,1047.83L75.23,1047.86L76.55,1047.89L77.88,1047.92L79.2,1047.94L80.52,1047.97L81.83,1047.99L83.15,1048L84.46,1048.02L85.77,1048.03L87.07,1048.03L88.37,1048.04L89.67,1048.04L90.97,1048.04L92.26,1048.04L93.55,1048.03L94.84,1048.02L96.12,1048L97.4,1047.99L98.68,1047.97L99.95,1047.94L101.22,1047.91L102.49,1047.88L103.75,1047.85L105.01,1047.81L106.26,1047.76L107.51,1047.72L108.76,1047.67L110,1047.61L111.24,1047.55L112.47,1047.49L113.71,1047.42L114.93,1047.35L116.15,1047.28L117.37,1047.2L118.58,1047.11L119.79,1047.02L121,1046.93L122.19,1046.83L123.39,1046.73L124.58,1046.62L125.76,1046.51L126.94,1046.39L128.12,1046.27L129.29,1046.14L130.45,1046.01L131.62,1045.87L132.77,1045.73L133.92,1045.58L135.06,1045.43L136.2,1045.27L137.34,1045.11L138.47,1044.94L139.59,1044.76L140.7,1044.58L141.82,1044.4L142.92,1044.2L144.02,1044.01L145.12,1043.8L146.2,1043.59L147.29,1043.38L148.36,1043.16L149.43,1042.93L150.5,1042.7L151.55,1042.46L152.61,1042.21L153.65,1041.96L154.69,1041.7L155.72,1041.44L156.75,1041.16L157.77,1040.89L158.78,1040.6L159.78,1040.31L160.78,1040.01L161.78,1039.71L162.76,1039.39L163.74,1039.07L164.71,1038.75L165.68,1038.42L166.63,1038.08L167.58,1037.73L168.53,1037.37L169.46,1037.01L170.39,1036.64L171.31,1036.26L172.22,1035.88L173.13,1035.49L174.03,1035.09L174.92,1034.68L175.8,1034.27L176.67,1033.84L177.54,1033.41L178.4,1032.98L179.25,1032.53L180.09,1032.07L180.93,1031.61L181.75,1031.14L182.57,1030.66L183.38,1030.17L184.18,1029.68L184.98,1029.17L185.76,1028.66L186.54,1028.14L187.31,1027.61L188.07,1027.07L188.82,1026.53L189.56,1025.97L190.29,1025.41L191.01,1024.83L191.73,1024.25L192.43,1023.66L193.13,1023.06L193.82,1022.45L194.5,1021.83L195.17,1021.2L195.82,1020.56L196.48,1019.91L197.12,1019.26L197.75,1018.59L198.37,1017.92L198.98,1017.23L199.59,1016.54L200.18,1015.84L200.77,1015.13L201.35,1014.41L201.92,1013.68L202.48,1012.95L203.04,1012.2L203.58,1011.45L204.12,1010.69L204.65,1009.92L205.17,1009.15L205.68,1008.36L206.19,1007.57L206.69,1006.77L207.18,1005.97L207.66,1005.15L208.14,1004.33L208.61,1003.51L209.07,1002.67L209.53,1001.83L209.98,1000.98L210.42,1000.13L210.86,999.26L211.29,998.4L211.71,997.52L212.12,996.64L212.54,995.76L212.94,994.86L213.34,993.96L213.73,993.06L214.12,992.15L214.5,991.23L214.88,990.31L215.25,989.39L215.61,988.45L215.97,987.52L216.33,986.57L216.68,985.63L217.02,984.68L217.37,983.72L217.7,982.76L218.03,981.79L218.36,980.82L218.68,979.85L219,978.87L219.32,977.88L219.63,976.9L219.93,975.91L220.24,974.91L220.53,973.91L220.83,972.91L221.12,971.91L221.41,970.9L221.7,969.89L221.98,968.87L222.26,967.85L222.53,966.83L222.81,965.81L223.08,964.78L223.35,963.75L223.61,962.72L223.87,961.69L224.14,960.65L224.39,959.61L224.65,958.57L224.9,957.52L225.15,956.48L225.4,955.43L225.65,954.37L225.89,953.32L226.13,952.26L226.37,951.2L226.6,950.14L226.84,949.08L227.07,948.01L227.3,946.94L227.52,945.87L227.75,944.8L227.97,943.72L228.19,942.64L228.4,941.56L228.62,940.48L228.83,939.4L229.04,938.31L229.25,937.22L229.45,936.13L229.66,935.03L229.86,933.94L230.06,932.84L230.25,931.74L230.45,930.63L230.64,929.53L230.83,928.42L231.02,927.31L231.2,926.2L231.39,925.09L231.57,923.97L231.75,922.85L231.93,921.73L232.1,920.61L232.28,919.49L232.45,918.36L232.62,917.23L232.78,916.1L232.95,914.97L233.11,913.84L233.27,912.7L233.43,911.56L233.59,910.43L233.75,909.28L233.9,908.14L234.05,906.99L234.2,905.85L234.35,904.7L234.5,903.55L234.64,902.39L234.78,901.24L234.93,900.08L235.06,898.92L235.2,897.76L235.34,896.6L235.47,895.44L235.6,894.27L235.73,893.1L235.86,891.94L235.99,890.76L236.11,889.59L236.24,888.42L236.36,887.24L236.48,886.07L236.6,884.89L236.71,883.71L236.83,882.52L236.94,881.34L237.05,880.15L237.16,878.97L237.27,877.78L237.38,876.59L237.48,875.4L237.59,874.2L237.69,873.01L237.79,871.81L237.89,870.61L237.99,869.41L238.09,868.21L238.18,867.01L238.28,865.81L238.37,864.6L238.46,863.4L238.55,862.19L238.64,860.98L238.72,859.77L238.81,858.56L238.89,857.34L238.98,856.13L239.06,854.91L239.14,853.69L239.22,852.48L239.29,851.26L239.37,850.04L239.44,848.81L239.52,847.59L239.59,846.36L239.66,845.14L239.73,843.91L239.8,842.68L239.87,841.45L239.94,840.22L240,838.99L240.07,837.76L240.13,836.52L240.19,835.29L240.25,834.05L240.31,832.81L240.37,831.58L240.43,830.34L240.49,829.1L240.54,827.85L240.6,826.61L240.65,825.37L240.7,824.12L240.75,822.88L240.81,821.63L240.86,820.38L240.9,819.14L240.95,817.89L241,816.64L241.05,815.38L241.09,814.13L241.14,812.88L241.18,811.63L241.22,810.37L241.26,809.12L241.31,807.86L241.35,806.6L241.39,805.35L241.42,804.09L241.46,802.83L241.5,801.57L241.54,800.31L241.57,799.04L241.61,797.78L241.64,796.52L241.68,795.26L241.71,793.99L241.74,792.73L241.77,791.46L241.8,790.19L241.83,788.93L241.86,787.66L241.89,786.39L241.92,785.12L241.95,783.85L241.98,782.58L242.01,781.31L242.03,780.04L242.06,778.77L242.08,777.5L242.11,776.23L242.13,774.96L242.16,773.68L242.18,772.41L242.2,771.13L242.23,769.86L242.25,768.59L242.27,767.31L242.29,766.03L242.32,764.76L242.34,763.48L242.36,762.21L242.38,760.93L242.4,759.65L242.42,758.37L242.44,757.1L242.46,755.82L242.47,754.54L242.49,753.26L242.51,751.98L242.53,750.7L242.55,749.42L242.57,748.14L242.58,746.86L242.6,745.58L242.62,744.3L242.64,743.02L242.65,741.74L242.67,740.46L242.69,739.18L242.7,737.9L242.72,736.62L242.74,735.34L242.75,734.06L242.77,732.78L242.79,731.5L242.8,730.22L242.82,728.94L242.84,727.65L242.85,726.37L242.87,725.09L242.89,723.81L242.9,722.53L242.92,721.25L242.94,719.97L242.95,718.69L242.97,717.41L242.99,716.13L243.01,714.85L243.02,713.57L243.04,712.29L243.06,711.01L243.08,709.73L243.1,708.45L243.11,707.17L243.13,705.9L243.15,704.62L243.17,703.34L243.19,702.06L243.21,700.78L243.23,699.51L243.25,698.23L243.27,696.95L243.29,695.68L243.32,694.4L243.34,693.13L243.36,691.85L243.38,690.58L243.41,689.3L243.43,688.03L243.46,686.76L243.48,685.48L243.5,684.21L243.53,682.94L243.56,681.67L243.58,680.4L243.61,679.13L243.64,677.86L243.67,676.59L243.69,675.32L243.72,674.05L243.75,672.78L243.78,671.52L243.82,670.25L243.85,668.99L243.88,667.72L243.91,666.46L243.95,665.19L243.98,663.93L244.02,662.67L244.05,661.41L244.09,660.14L244.12,658.88L244.16,657.62L244.2,656.37L244.24,655.11L244.28,653.85L244.32,652.59L244.36,651.34L244.41,650.08L244.45,648.83L244.5,647.58L244.54,646.33L244.59,645.07L244.63,643.82L244.68,642.57L244.73,641.33L244.78,640.08L244.83,638.83L244.88,637.59L244.94,636.34L244.99,635.1L245.04,633.86L245.1,632.61L245.16,631.37L245.21,630.13L245.27,628.89L245.33,627.66L245.39,626.42L245.46,625.19L245.52,623.95L245.58,622.72L245.65,621.49L245.71,620.25L245.78,619.03L245.85,617.8L245.92,616.57L245.99,615.34L246.07,614.12L246.14,612.89L246.21,611.67L246.29,610.45L246.37,609.23L246.45,608.01L246.53,606.79L246.61,605.58L246.69,604.36L246.77,603.15L246.86,601.94L246.95,600.73L247.03,599.52L247.12,598.31L247.21,597.1L247.31,595.9L247.4,594.69L247.49,593.49L247.59,592.29" fill="none" stroke="#ff0000" stroke-width="2.5" stroke-linejoin="round"/>
<line x1="69.8" y1="653.5" x2="95.7" y2="653.5" stroke="#0000ff" stroke-width="2.8"/>
<g transform="translate(97.4,657)"><text x="0" y="0" font-family="'Liberation Sans',Arial,sans-serif" font-size="19.8" font-weight="bold">g</text><text x="12.1" y="9.9" font-family="'Liberation Sans',Arial,sans-serif" font-size="15" font-weight="bold">nl</text><text x="25.43" y="0" font-family="'Liberation Sans',Arial,sans-serif" font-size="19.8" font-weight="bold">/g</text><text x="43.02" y="9.9" font-family="'Liberation Sans',Arial,sans-serif" font-size="15" font-weight="bold">l</text><text x="47.19" y="0" font-family="'Liberation Sans',Arial,sans-serif" font-size="19.8" font-weight="bold">=0</text></g>
<line x1="69.8" y1="690.5" x2="95.7" y2="690.5" stroke="#808080" stroke-width="2.8"/>
<g transform="translate(97.4,696.38)"><text x="0" y="0" font-family="'Liberation Sans',Arial,sans-serif" font-size="19.8" font-weight="bold">g</text><text x="12.1" y="9.9" font-family="'Liberation Sans',Arial,sans-serif" font-size="15" font-weight="bold">nl</text><text x="25.43" y="0" font-family="'Liberation Sans',Arial,sans-serif" font-size="19.8" font-weight="bold">/g</text><text x="43.02" y="9.9" font-family="'Liberation Sans',Arial,sans-serif" font-size="15" font-weight="bold">l</text><text x="47.19" y="0" font-family="'Liberation Sans',Arial,sans-serif" font-size="19.8" font-weight="bold">=10</text><text x="80.78" y="-9.7" font-family="'Liberation Sans',Arial,sans-serif" font-size="15" font-weight="bold">−5</text></g>
<line x1="69.8" y1="729.9" x2="95.7" y2="729.9" stroke="#000" stroke-width="2.8"/>
<g transform="translate(97.4,735.75)"><text x="0" y="0" font-family="'Liberation Sans',Arial,sans-serif" font-size="19.8" font-weight="bold">g</text><text x="12.1" y="9.9" font-family="'Liberation Sans',Arial,sans-serif" font-size="15" font-weight="bold">nl</text><text x="25.43" y="0" font-family="'Liberation Sans',Arial,sans-serif" font-size="19.8" font-weight="bold">/g</text><text x="43.02" y="9.9" font-family="'Liberation Sans',Arial,sans-serif" font-size="15" font-weight="bold">l</text><text x="47.19" y="0" font-family="'Liberation Sans',Arial,sans-serif" font-size="19.8" font-weight="bold">=10</text><text x="80.78" y="-9.7" font-family="'Liberation Sans',Arial,sans-serif" font-size="15" font-weight="bold">−4</text></g>
<line x1="69.8" y1="769.8" x2="95.7" y2="769.8" stroke="#de7d00" stroke-width="2.8"/>
<g transform="translate(97.4,775.12)"><text x="0" y="0" font-family="'Liberation Sans',Arial,sans-serif" font-size="19.8" font-weight="bold">g</text><text x="12.1" y="9.9" font-family="'Liberation Sans',Arial,sans-serif" font-size="15" font-weight="bold">nl</text><text x="25.43" y="0" font-family="'Liberation Sans',Arial,sans-serif" font-size="19.8" font-weight="bold">/g</text><text x="43.02" y="9.9" font-family="'Liberation Sans',Arial,sans-serif" font-size="15" font-weight="bold">l</text><text x="47.19" y="0" font-family="'Liberation Sans',Arial,sans-serif" font-size="19.8" font-weight="bold">=5x10</text><text x="102.8" y="-9.7" font-family="'Liberation Sans',Arial,sans-serif" font-size="15" font-weight="bold">−4</text></g>
<line x1="69.8" y1="809.9" x2="95.7" y2="809.9" stroke="#ff0000" stroke-width="2.8"/>
<g transform="translate(97.4,814.5)"><text x="0" y="0" font-family="'Liberation Sans',Arial,sans-serif" font-size="19.8" font-weight="bold">g</text><text x="12.1" y="9.9" font-family="'Liberation Sans',Arial,sans-serif" font-size="15" font-weight="bold">nl</text><text x="25.43" y="0" font-family="'Liberation Sans',Arial,sans-serif" font-size="19.8" font-weight="bold">/g</text><text x="43.02" y="9.9" font-family="'Liberation Sans',Arial,sans-serif" font-size="15" font-weight="bold">l</text><text x="47.19" y="0" font-family="'Liberation Sans',Arial,sans-serif" font-size="19.8" font-weight="bold">=10</text><text x="80.78" y="-9.7" font-family="'Liberation Sans',Arial,sans-serif" font-size="15" font-weight="bold">−3</text></g>
<rect x="694.3" y="591.1" width="28.2" height="39.7" fill="#000"/>
<text x="697.6" y="617.4" font-family="'Liberation Sans',Arial,sans-serif" font-size="26" font-weight="bold" text-anchor="start" fill="#fff">c</text>
<line x1="925.7" y1="663.5" x2="925.7" y2="1057.9" stroke="#7f7f7f" stroke-width="1"/>
<line x1="925.2" y1="1057.4" x2="1590.5" y2="1057.4" stroke="#7f7f7f" stroke-width="1"/>
<line x1="925.7" y1="926.2" x2="932.2" y2="926.2" stroke="#7f7f7f" stroke-width="1"/>
<line x1="925.7" y1="795" x2="932.2" y2="795" stroke="#7f7f7f" stroke-width="1"/>
<line x1="1008.72" y1="1057.4" x2="1008.72" y2="1050.9" stroke="#7f7f7f" stroke-width="1"/>
<line x1="1091.73" y1="1057.4" x2="1091.73" y2="1050.9" stroke="#7f7f7f" stroke-width="1"/>
<line x1="1174.75" y1="1057.4" x2="1174.75" y2="1050.9" stroke="#7f7f7f" stroke-width="1"/>
<line x1="1257.76" y1="1057.4" x2="1257.76" y2="1050.9" stroke="#7f7f7f" stroke-width="1"/>
<line x1="1340.78" y1="1057.4" x2="1340.78" y2="1050.9" stroke="#7f7f7f" stroke-width="1"/>
<line x1="1423.79" y1="1057.4" x2="1423.79" y2="1050.9" stroke="#7f7f7f" stroke-width="1"/>
<line x1="1506.81" y1="1057.4" x2="1506.81" y2="1050.9" stroke="#7f7f7f" stroke-width="1"/>
<line x1="1589.82" y1="1057.4" x2="1589.82" y2="1050.9" stroke="#7f7f7f" stroke-width="1"/>
<text x="922.6" y="1066.5" font-family="'Liberation Serif','Times New Roman',serif" font-size="26.5" font-weight="bold" text-anchor="end">0</text>
<text x="922.6" y="935.3" font-family="'Liberation Serif','Times New Roman',serif" font-size="26.5" font-weight="bold" text-anchor="end">0.5</text>
<text x="922.6" y="804.1" font-family="'Liberation Serif','Times New Roman',serif" font-size="26.5" font-weight="bold" text-anchor="end">1</text>
<text x="922.6" y="672.9" font-family="'Liberation Serif','Times New Roman',serif" font-size="26.5" font-weight="bold" text-anchor="end">1.5</text>
<text x="925.7" y="1084.6" font-family="'Liberation Serif','Times New Roman',serif" font-size="26.5" font-weight="bold" text-anchor="middle">0</text>
<text x="1008.72" y="1084.6" font-family="'Liberation Serif','Times New Roman',serif" font-size="26.5" font-weight="bold" text-anchor="middle">50</text>
<text x="1091.73" y="1084.6" font-family="'Liberation Serif','Times New Roman',serif" font-size="26.5" font-weight="bold" text-anchor="middle">100</text>
<text x="1174.75" y="1084.6" font-family="'Liberation Serif','Times New Roman',serif" font-size="26.5" font-weight="bold" text-anchor="middle">150</text>
<text x="1257.76" y="1084.6" font-family="'Liberation Serif','Times New Roman',serif" font-size="26.5" font-weight="bold" text-anchor="middle">200</text>
<text x="1340.78" y="1084.6" font-family="'Liberation Serif','Times New Roman',serif" font-size="26.5" font-weight="bold" text-anchor="middle">250</text>
<text x="1423.79" y="1084.6" font-family="'Liberation Serif','Times New Roman',serif" font-size="26.5" font-weight="bold" text-anchor="middle">300</text>
<text x="1506.81" y="1084.6" font-family="'Liberation Serif','Times New Roman',serif" font-size="26.5" font-weight="bold" text-anchor="middle">350</text>
<text x="1589.82" y="1084.6" font-family="'Liberation Serif','Times New Roman',serif" font-size="26.5" font-weight="bold" text-anchor="middle">400</text>
<g transform="translate(924.6,658.6)"><text x="0" y="0" font-family="'Liberation Serif','Times New Roman',serif" font-size="25.5" font-weight="bold">x 10</text><text x="44.62" y="-15.5" font-family="'Liberation Serif','Times New Roman',serif" font-size="17.5" font-weight="bold">−4</text></g>
<g transform="translate(1258,1115.3)"><text x="-45.48" y="0" font-family="'Liberation Serif','Times New Roman',serif" font-size="29" font-weight="normal">α</text><text x="-30.29" y="-13.26" font-family="'Liberation Serif','Times New Roman',serif" font-size="19.89" font-weight="bold">in</text><text x="-13.7" y="0" font-family="'Liberation Serif','Times New Roman',serif" font-size="25.5" font-weight="bold">[</text><text x="-5.21" y="0" font-family="'Liberation Serif','Times New Roman',serif" font-size="25.5" font-weight="normal">ω</text><text x="11.57" y="11.98" font-family="'Liberation Serif','Times New Roman',serif" font-size="19.89" font-weight="bold">m</text><text x="11.57" y="-13.26" font-family="'Liberation Serif','Times New Roman',serif" font-size="19.89" font-weight="bold">1/2</text><text x="36.99" y="0" font-family="'Liberation Serif','Times New Roman',serif" font-size="25.5" font-weight="bold">]</text></g>
<g transform="translate(870,860.4) rotate(-90)"><text x="-41.66" y="0" font-family="'Liberation Serif','Times New Roman',serif" font-size="25.5" font-weight="normal">Δ</text><text x="-25.26" y="11.98" font-family="'Liberation Serif','Times New Roman',serif" font-size="19.89" font-weight="bold">nl</text><text x="-8.68" y="0" font-family="'Liberation Serif','Times New Roman',serif" font-size="25.5" font-weight="bold">[</text><text x="-0.18" y="0" font-family="'Liberation Serif','Times New Roman',serif" font-size="25.5" font-weight="normal">ω</text><text x="16.6" y="11.98" font-family="'Liberation Serif','Times New Roman',serif" font-size="19.89" font-weight="bold">m</text><text x="33.17" y="0" font-family="'Liberation Serif','Times New Roman',serif" font-size="25.5" font-weight="bold">]</text></g>
<path d="M925.7,1058.08L926.53,1058.06L927.36,1058.03L928.19,1058.01L929.02,1057.99L929.86,1057.96L930.69,1057.94L931.52,1057.92L932.35,1057.9L933.18,1057.88L934.01,1057.86L934.84,1057.84L935.67,1057.82L936.51,1057.79L937.34,1057.77L938.17,1057.76L939,1057.74L939.83,1057.72L940.66,1057.7L941.49,1057.68L942.32,1057.66L943.15,1057.64L943.99,1057.62L944.82,1057.61L945.65,1057.59L946.48,1057.57L947.31,1057.55L948.14,1057.54L948.97,1057.52L949.8,1057.51L950.63,1057.49L951.47,1057.47L952.3,1057.46L953.13,1057.44L953.96,1057.43L954.79,1057.41L955.62,1057.4L956.45,1057.38L957.28,1057.37L958.12,1057.36L958.95,1057.34L959.78,1057.33L960.61,1057.31L961.44,1057.3L962.27,1057.29L963.1,1057.28L963.93,1057.26L964.76,1057.25L965.6,1057.24L966.43,1057.23L967.26,1057.21L968.09,1057.2L968.92,1057.19L969.75,1057.18L970.58,1057.17L971.41,1057.16L972.25,1057.15L973.08,1057.14L973.91,1057.13L974.74,1057.12L975.57,1057.11L976.4,1057.1L977.23,1057.09L978.06,1057.08L978.89,1057.07L979.73,1057.06L980.56,1057.05L981.39,1057.04L982.22,1057.04L983.05,1057.03L983.88,1057.02L984.71,1057.01L985.54,1057L986.37,1057L987.21,1056.99L988.04,1056.98L988.87,1056.97L989.7,1056.97L990.53,1056.96L991.36,1056.95L992.19,1056.95L993.02,1056.94L993.86,1056.93L994.69,1056.93L995.52,1056.92L996.35,1056.91L997.18,1056.91L998.01,1056.9L998.84,1056.9L999.67,1056.89L1000.5,1056.89L1001.34,1056.88L1002.17,1056.87L1003,1056.87L1003.83,1056.86L1004.66,1056.86L1005.49,1056.85L1006.32,1056.85L1007.15,1056.85L1007.99,1056.84L1008.82,1056.84L1009.65,1056.83L1010.48,1056.83L1011.31,1056.82L1012.14,1056.82L1012.97,1056.82L1013.8,1056.81L1014.63,1056.81L1015.47,1056.81L1016.3,1056.8L1017.13,1056.8L1017.96,1056.79L1018.79,1056.79L1019.62,1056.79L1020.45,1056.79L1021.28,1056.78L1022.12,1056.78L1022.95,1056.78L1023.78,1056.77L1024.61,1056.77L1025.44,1056.77L1026.27,1056.76L1027.1,1056.76L1027.93,1056.76L1028.76,1056.76L1029.6,1056.75L1030.43,1056.75L1031.26,1056.75L1032.09,1056.75L1032.92,1056.74L1033.75,1056.74L1034.58,1056.74L1035.41,1056.74L1036.24,1056.74L1037.08,1056.73L1037.91,1056.73L1038.74,1056.73L1039.57,1056.73L1040.4,1056.73L1041.23,1056.72L1042.06,1056.72L1042.89,1056.72L1043.73,1056.72L1044.56,1056.72L1045.39,1056.71L1046.22,1056.71L1047.05,1056.71L1047.88,1056.71L1048.71,1056.71L1049.54,1056.7L1050.37,1056.7L1051.21,1056.7L1052.04,1056.7L1052.87,1056.7L1053.7,1056.7L1054.53,1056.69L1055.36,1056.69L1056.19,1056.69L1057.02,1056.69L1057.86,1056.69L1058.69,1056.68L1059.52,1056.68L1060.35,1056.68L1061.18,1056.68L1062.01,1056.68L1062.84,1056.67L1063.67,1056.67L1064.5,1056.67L1065.34,1056.67L1066.17,1056.67L1067,1056.66L1067.83,1056.66L1068.66,1056.66L1069.49,1056.66L1070.32,1056.65L1071.15,1056.65L1071.98,1056.65L1072.82,1056.65L1073.65,1056.64L1074.48,1056.64L1075.31,1056.64L1076.14,1056.64L1076.97,1056.63L1077.8,1056.63L1078.63,1056.63L1079.47,1056.62L1080.3,1056.62L1081.13,1056.62L1081.96,1056.61L1082.79,1056.61L1083.62,1056.61L1084.45,1056.6L1085.28,1056.6L1086.11,1056.6L1086.95,1056.59L1087.78,1056.59L1088.61,1056.59L1089.44,1056.58L1090.27,1056.58L1091.1,1056.57L1091.93,1056.57L1092.76,1056.57L1093.6,1056.56L1094.43,1056.56L1095.26,1056.55L1096.09,1056.55L1096.92,1056.54L1097.75,1056.54L1098.58,1056.53L1099.41,1056.53L1100.24,1056.52L1101.08,1056.52L1101.91,1056.51L1102.74,1056.51L1103.57,1056.5L1104.4,1056.49L1105.23,1056.49L1106.06,1056.48L1106.89,1056.47L1107.72,1056.47L1108.56,1056.46L1109.39,1056.46L1110.22,1056.45L1111.05,1056.44L1111.88,1056.43L1112.71,1056.43L1113.54,1056.42L1114.37,1056.41L1115.21,1056.4L1116.04,1056.4L1116.87,1056.39L1117.7,1056.38L1118.53,1056.37L1119.36,1056.36L1120.19,1056.36L1121.02,1056.35L1121.85,1056.34L1122.69,1056.33L1123.52,1056.32L1124.35,1056.31L1125.18,1056.3L1126.01,1056.29L1126.84,1056.28L1127.67,1056.27L1128.5,1056.26L1129.34,1056.25L1130.17,1056.24L1131,1056.23L1131.83,1056.22L1132.66,1056.21L1133.49,1056.19L1134.32,1056.18L1135.15,1056.17L1135.98,1056.16L1136.82,1056.15L1137.65,1056.13L1138.48,1056.12L1139.31,1056.11L1140.14,1056.1L1140.97,1056.08L1141.8,1056.07L1142.63,1056.06L1143.46,1056.04L1144.3,1056.03L1145.13,1056.01L1145.96,1056L1146.79,1055.98L1147.62,1055.97L1148.45,1055.95L1149.28,1055.94L1150.11,1055.92L1150.95,1055.91L1151.78,1055.89L1152.61,1055.87L1153.44,1055.86L1154.27,1055.84L1155.1,1055.82L1155.93,1055.81L1156.76,1055.79L1157.59,1055.77L1158.43,1055.75L1159.26,1055.73L1160.09,1055.71L1160.92,1055.7L1161.75,1055.68L1162.58,1055.66L1163.41,1055.64L1164.24,1055.62L1165.08,1055.6L1165.91,1055.58L1166.74,1055.56L1167.57,1055.54L1168.4,1055.51L1169.23,1055.49L1170.06,1055.47L1170.89,1055.45L1171.72,1055.43L1172.56,1055.4L1173.39,1055.38L1174.22,1055.36L1175.05,1055.33L1175.88,1055.31L1176.71,1055.29L1177.54,1055.26L1178.37,1055.24L1179.21,1055.21L1180.04,1055.19L1180.87,1055.16L1181.7,1055.14L1182.53,1055.11L1183.36,1055.08L1184.19,1055.06L1185.02,1055.03L1185.85,1055L1186.69,1054.97L1187.52,1054.94L1188.35,1054.92L1189.18,1054.89L1190.01,1054.86L1190.84,1054.83L1191.67,1054.8L1192.5,1054.77L1193.33,1054.74L1194.17,1054.71L1195,1054.68L1195.83,1054.65L1196.66,1054.61L1197.49,1054.58L1198.32,1054.55L1199.15,1054.52L1199.98,1054.48L1200.82,1054.45L1201.65,1054.42L1202.48,1054.38L1203.31,1054.35L1204.14,1054.31L1204.97,1054.28L1205.8,1054.24L1206.63,1054.21L1207.46,1054.17L1208.3,1054.13L1209.13,1054.1L1209.96,1054.06L1210.79,1054.02L1211.62,1053.98L1212.45,1053.94L1213.28,1053.91L1214.11,1053.87L1214.95,1053.83L1215.78,1053.79L1216.61,1053.75L1217.44,1053.7L1218.27,1053.66L1219.1,1053.62L1219.93,1053.58L1220.76,1053.54L1221.59,1053.49L1222.43,1053.45L1223.26,1053.41L1224.09,1053.36L1224.92,1053.32L1225.75,1053.27L1226.58,1053.23L1227.41,1053.18L1228.24,1053.14L1229.07,1053.09L1229.91,1053.04L1230.74,1053L1231.57,1052.95L1232.4,1052.9L1233.23,1052.85L1234.06,1052.8L1234.89,1052.75L1235.72,1052.7L1236.56,1052.65L1237.39,1052.6L1238.22,1052.55L1239.05,1052.5L1239.88,1052.45L1240.71,1052.39L1241.54,1052.34L1242.37,1052.29L1243.2,1052.23L1244.04,1052.18L1244.87,1052.13L1245.7,1052.07L1246.53,1052.01L1247.36,1051.96L1248.19,1051.9L1249.02,1051.84L1249.85,1051.79L1250.69,1051.73L1251.52,1051.67L1252.35,1051.61L1253.18,1051.55L1254.01,1051.49L1254.84,1051.43L1255.67,1051.37L1256.5,1051.31L1257.33,1051.25L1258.17,1051.19L1259,1051.12L1259.83,1051.06L1260.66,1051L1261.49,1050.93L1262.32,1050.87L1263.15,1050.8L1263.98,1050.74L1264.81,1050.67L1265.65,1050.6L1266.48,1050.54L1267.31,1050.47L1268.14,1050.4L1268.97,1050.33L1269.8,1050.26L1270.63,1050.19L1271.46,1050.12L1272.3,1050.05L1273.13,1049.98L1273.96,1049.91L1274.79,1049.84L1275.62,1049.76L1276.45,1049.69L1277.28,1049.62L1278.11,1049.54L1278.94,1049.47L1279.78,1049.39L1280.61,1049.31L1281.44,1049.24L1282.27,1049.16L1283.1,1049.08L1283.93,1049L1284.76,1048.93L1285.59,1048.85L1286.43,1048.77L1287.26,1048.69L1288.09,1048.6L1288.92,1048.52L1289.75,1048.44L1290.58,1048.36L1291.41,1048.28L1292.24,1048.19L1293.07,1048.11L1293.91,1048.02L1294.74,1047.94L1295.57,1047.85L1296.4,1047.76L1297.23,1047.68L1298.06,1047.59L1298.89,1047.5L1299.72,1047.41L1300.55,1047.32L1301.39,1047.23L1302.22,1047.14L1303.05,1047.05L1303.88,1046.96L1304.71,1046.87L1305.54,1046.77L1306.37,1046.68L1307.2,1046.58L1308.04,1046.49L1308.87,1046.39L1309.7,1046.3L1310.53,1046.2L1311.36,1046.1L1312.19,1046.01L1313.02,1045.91L1313.85,1045.81L1314.68,1045.71L1315.52,1045.61L1316.35,1045.51L1317.18,1045.41L1318.01,1045.3L1318.84,1045.2L1319.67,1045.1L1320.5,1044.99L1321.33,1044.89L1322.17,1044.78L1323,1044.68L1323.83,1044.57L1324.66,1044.46L1325.49,1044.36L1326.32,1044.25L1327.15,1044.14L1327.98,1044.03L1328.81,1043.92L1329.65,1043.8L1330.48,1043.69L1331.31,1043.58L1332.14,1043.47L1332.97,1043.35L1333.8,1043.24L1334.63,1043.12L1335.46,1043L1336.29,1042.89L1337.13,1042.77L1337.96,1042.65L1338.79,1042.53L1339.62,1042.41L1340.45,1042.29L1341.28,1042.16L1342.11,1042.04L1342.94,1041.92L1343.78,1041.79L1344.61,1041.66L1345.44,1041.54L1346.27,1041.41L1347.1,1041.28L1347.93,1041.15L1348.76,1041.02L1349.59,1040.89L1350.42,1040.76L1351.26,1040.62L1352.09,1040.49L1352.92,1040.36L1353.75,1040.22L1354.58,1040.08L1355.41,1039.95L1356.24,1039.81L1357.07,1039.67L1357.91,1039.53L1358.74,1039.38L1359.57,1039.24L1360.4,1039.1L1361.23,1038.95L1362.06,1038.81L1362.89,1038.66L1363.72,1038.51L1364.55,1038.36L1365.39,1038.21L1366.22,1038.06L1367.05,1037.91L1367.88,1037.75L1368.71,1037.6L1369.54,1037.44L1370.37,1037.29L1371.2,1037.13L1372.04,1036.97L1372.87,1036.81L1373.7,1036.65L1374.53,1036.49L1375.36,1036.32L1376.19,1036.16L1377.02,1035.99L1377.85,1035.82L1378.68,1035.65L1379.52,1035.48L1380.35,1035.31L1381.18,1035.14L1382.01,1034.97L1382.84,1034.79L1383.67,1034.62L1384.5,1034.44L1385.33,1034.26L1386.16,1034.08L1387,1033.9L1387.83,1033.72L1388.66,1033.53L1389.49,1033.35L1390.32,1033.16L1391.15,1032.98L1391.98,1032.79L1392.81,1032.6L1393.65,1032.41L1394.48,1032.21L1395.31,1032.02L1396.14,1031.82L1396.97,1031.62L1397.8,1031.43L1398.63,1031.23L1399.46,1031.02L1400.29,1030.82L1401.13,1030.62L1401.96,1030.41L1402.79,1030.2L1403.62,1030L1404.45,1029.79L1405.28,1029.57L1406.11,1029.36L1406.94,1029.15L1407.1,1029.11" fill="none" stroke="#0000ff" stroke-width="3" stroke-linejoin="round"/>
<path d="M1415.6,1026.82L1416.09,1026.69L1416.92,1026.46L1417.75,1026.22L1418.58,1025.98L1419.41,1025.75L1420.24,1025.51L1421.07,1025.27L1421.9,1025.02L1422.74,1024.78L1423.57,1024.53L1424.4,1024.29L1425.23,1024.04L1426.06,1023.79L1426.89,1023.53L1427.72,1023.28L1428.55,1023.02L1429.39,1022.77L1430.22,1022.51L1431.05,1022.24L1431.88,1021.98L1432.71,1021.72L1433.54,1021.45L1434.37,1021.18L1435.2,1020.91L1436.03,1020.64L1436.87,1020.37L1437.7,1020.09L1438.53,1019.81L1439.36,1019.54L1440.19,1019.26L1441.02,1018.97L1441.85,1018.69L1442.68,1018.4L1443.52,1018.11L1444.35,1017.82L1445.18,1017.53L1446.01,1017.24L1446.84,1016.94L1447.67,1016.65L1448.5,1016.35L1449.33,1016.05L1450.16,1015.74L1451,1015.44L1451.83,1015.13L1452.66,1014.82L1453.49,1014.51L1454.32,1014.2L1455.15,1013.88L1455.98,1013.57L1456.81,1013.25L1457.64,1012.93L1458.48,1012.6L1459.31,1012.28L1460.14,1011.95L1460.97,1011.62L1461.8,1011.29L1462.63,1010.96L1463.46,1010.62L1464.29,1010.28L1465.13,1009.95L1465.96,1009.6L1466.79,1009.26L1467.62,1008.91L1468.45,1008.57L1469.28,1008.22L1470.11,1007.86L1470.94,1007.51L1471.77,1007.15L1472.61,1006.79L1473.44,1006.43L1474.27,1006.07L1475.1,1005.7L1475.93,1005.34L1476.76,1004.97L1477.59,1004.59L1478.42,1004.22L1479.26,1003.84L1480.09,1003.46L1480.92,1003.08L1481.75,1002.7L1482.58,1002.31L1483.41,1001.92L1484.24,1001.53L1485.07,1001.14L1485.9,1000.74L1486.74,1000.35L1487.57,999.95L1488.4,999.54L1489.23,999.14L1490.06,998.73L1490.89,998.32L1491.72,997.91L1492.55,997.49L1493.38,997.08L1494.22,996.66L1495.05,996.24L1495.88,995.81L1496.71,995.38L1497.54,994.95L1498.37,994.52L1499.2,994.09L1500.03,993.65L1500.87,993.21L1501.7,992.77L1502.53,992.32L1503.36,991.88L1504.19,991.43L1505.02,990.97L1505.85,990.52L1506.68,990.06L1507.51,989.6L1508.35,989.14L1509.18,988.67L1510.01,988.2L1510.84,987.73L1511.67,987.26L1512.5,986.78L1513.33,986.3L1514.16,985.82L1515,985.34L1515.83,984.85L1516.66,984.36L1517.49,983.87L1518.32,983.37L1519.15,982.87L1519.98,982.37L1520.81,981.87L1521.64,981.36L1522.48,980.85L1523.31,980.34L1524.14,979.82L1524.97,979.3L1525.8,978.78L1526.63,978.26L1527.46,977.73L1528.29,977.2L1529.13,976.67L1529.96,976.14L1530.79,975.6L1531.62,975.06L1532.45,974.51L1533.28,973.97L1534.11,973.42L1534.94,972.86L1535.77,972.31L1536.61,971.75L1537.44,971.19L1538.27,970.62L1539.1,970.05L1539.93,969.48L1540.76,968.91L1541.59,968.33L1542.42,967.75L1543.25,967.17L1544.09,966.58L1544.92,965.99L1545.75,965.4L1546.58,964.8L1547.41,964.2L1548.24,963.6L1549.07,963L1549.9,962.39L1550.74,961.78L1551.57,961.16L1552.4,960.55L1553.23,959.93L1554.06,959.3L1554.89,958.67L1555.72,958.04L1556.55,957.41L1557.38,956.77L1558.22,956.13L1559.05,955.49L1559.88,954.84L1560.71,954.19L1561.54,953.54L1562.37,952.88L1563.2,952.22L1564.03,951.56L1564.87,950.89L1565.7,950.22L1566.53,949.55L1567.36,948.87L1568.19,948.19L1569.02,947.51L1569.85,946.82L1570.68,946.13L1571.51,945.44L1572.35,944.74L1573.18,944.04L1574.01,943.33L1574.84,942.63L1575.67,941.92L1576.5,941.2L1577.33,940.48L1578.16,939.76L1578.99,939.04L1579.83,938.31L1580.66,937.58L1581.49,936.84L1582.32,936.1L1583.15,935.36L1583.98,934.61L1584.81,933.86L1585.64,933.11L1586.48,932.35L1587.31,931.59L1588.14,930.83L1588.97,930.06L1589.8,929.29" fill="none" stroke="#0000ff" stroke-width="3" stroke-linejoin="round" stroke-dasharray="6,4.3"/>
<path d="M925.7,1057.41L926.53,1057.41L927.36,1057.4L928.19,1057.39L929.03,1057.38L929.86,1057.38L930.69,1057.37L931.52,1057.36L932.35,1057.36L933.18,1057.35L934.01,1057.34L934.84,1057.34L935.68,1057.33L936.51,1057.32L937.34,1057.32L938.17,1057.31L939,1057.31L939.83,1057.3L940.66,1057.3L941.49,1057.29L942.33,1057.29L943.16,1057.28L943.99,1057.28L944.82,1057.27L945.65,1057.27L946.48,1057.27L947.31,1057.26L948.14,1057.26L948.98,1057.26L949.81,1057.25L950.64,1057.25L951.47,1057.25L952.3,1057.24L953.13,1057.24L953.96,1057.24L954.8,1057.23L955.63,1057.23L956.46,1057.23L957.29,1057.23L958.12,1057.23L958.95,1057.22L959.78,1057.22L960.61,1057.22L961.45,1057.22L962.28,1057.22L963.11,1057.21L963.94,1057.21L964.77,1057.21L965.6,1057.21L966.43,1057.21L967.26,1057.21L968.1,1057.21L968.93,1057.21L969.76,1057.21L970.59,1057.2L971.42,1057.2L972.25,1057.2L973.08,1057.2L973.91,1057.2L974.75,1057.2L975.58,1057.2L976.41,1057.2L977.24,1057.2L978.07,1057.2L978.9,1057.2L979.73,1057.2L980.57,1057.2L981.4,1057.2L982.23,1057.2L983.06,1057.2L983.89,1057.2L984.72,1057.2L985.55,1057.2L986.38,1057.2L987.22,1057.2L988.05,1057.2L988.88,1057.2L989.71,1057.2L990.54,1057.2L991.37,1057.2L992.2,1057.2L993.03,1057.2L993.87,1057.2L994.7,1057.2L995.53,1057.2L996.36,1057.2L997.19,1057.2L998.02,1057.2L998.85,1057.2L999.68,1057.2L1000.52,1057.21L1001.35,1057.21L1002.18,1057.21L1003.01,1057.21L1003.84,1057.21L1004.67,1057.21L1005.5,1057.21L1006.34,1057.21L1007.17,1057.21L1008,1057.21L1008.83,1057.21L1009.66,1057.21L1010.49,1057.21L1011.32,1057.21L1012.15,1057.21L1012.99,1057.2L1013.82,1057.2L1014.65,1057.2L1015.48,1057.2L1016.31,1057.2L1017.14,1057.2L1017.97,1057.2L1018.8,1057.2L1019.64,1057.2L1020.47,1057.2L1021.3,1057.2L1022.13,1057.2L1022.96,1057.2L1023.79,1057.19L1024.62,1057.19L1025.45,1057.19L1026.29,1057.19L1027.12,1057.19L1027.95,1057.19L1028.78,1057.19L1029.61,1057.18L1030.44,1057.18L1031.27,1057.18L1032.11,1057.18L1032.94,1057.17L1033.77,1057.17L1034.6,1057.17L1035.43,1057.17L1036.26,1057.16L1037.09,1057.16L1037.92,1057.16L1038.76,1057.15L1039.59,1057.15L1040.42,1057.15L1041.25,1057.14L1042.08,1057.14L1042.91,1057.14L1043.74,1057.13L1044.57,1057.13L1045.41,1057.12L1046.24,1057.12L1047.07,1057.11L1047.9,1057.11L1048.73,1057.11L1049.56,1057.1L1050.39,1057.09L1051.22,1057.09L1052.06,1057.08L1052.89,1057.08L1053.72,1057.07L1054.55,1057.07L1055.38,1057.06L1056.21,1057.05L1057.04,1057.05L1057.87,1057.04L1058.71,1057.03L1059.54,1057.02L1060.37,1057.02L1061.2,1057.01L1062.03,1057L1062.86,1056.99L1063.69,1056.99L1064.53,1056.98L1065.36,1056.97L1066.19,1056.96L1067.02,1056.95L1067.85,1056.94L1068.68,1056.93L1069.51,1056.92L1070.34,1056.91L1071.18,1056.9L1072.01,1056.89L1072.84,1056.88L1073.67,1056.87L1074.5,1056.86L1075.33,1056.85L1076.16,1056.83L1076.99,1056.82L1077.83,1056.81L1078.66,1056.8L1079.49,1056.78L1080.32,1056.77L1081.15,1056.76L1081.98,1056.74L1082.81,1056.73L1083.64,1056.72L1084.48,1056.7L1085.31,1056.69L1086.14,1056.67L1086.97,1056.66L1087.8,1056.64L1088.63,1056.63L1089.46,1056.61L1090.3,1056.6L1091.13,1056.58L1091.96,1056.56L1092.79,1056.54L1093.62,1056.53L1094.45,1056.51L1095.28,1056.49L1096.11,1056.47L1096.95,1056.45L1097.78,1056.44L1098.61,1056.42L1099.44,1056.4L1100.27,1056.38L1101.1,1056.36L1101.93,1056.34L1102.76,1056.32L1103.6,1056.29L1104.43,1056.27L1105.26,1056.25L1106.09,1056.23L1106.92,1056.21L1107.75,1056.18L1108.58,1056.16L1109.41,1056.14L1110.25,1056.11L1111.08,1056.09L1111.91,1056.06L1112.74,1056.04L1113.57,1056.01L1114.4,1055.99L1115.23,1055.96L1116.07,1055.94L1116.9,1055.91L1117.73,1055.88L1118.56,1055.85L1119.39,1055.83L1120.22,1055.8L1121.05,1055.77L1121.88,1055.74L1122.72,1055.71L1123.55,1055.68L1124.38,1055.65L1125.21,1055.62L1126.04,1055.59L1126.87,1055.56L1127.7,1055.53L1128.53,1055.5L1129.37,1055.46L1130.2,1055.43L1131.03,1055.4L1131.86,1055.36L1132.69,1055.33L1133.52,1055.29L1134.35,1055.26L1135.18,1055.22L1136.02,1055.19L1136.85,1055.15L1137.68,1055.11L1138.51,1055.08L1139.34,1055.04L1140.17,1055L1141,1054.96L1141.84,1054.92L1142.67,1054.89L1143.5,1054.85L1144.33,1054.81L1145.16,1054.76L1145.99,1054.72L1146.82,1054.68L1147.65,1054.64L1148.49,1054.6L1149.32,1054.55L1150.15,1054.51L1150.98,1054.47L1151.81,1054.42L1152.64,1054.38L1153.47,1054.33L1154.3,1054.29L1155.14,1054.24L1155.97,1054.19L1156.8,1054.15L1157.63,1054.1L1158.46,1054.05L1159.29,1054L1160.12,1053.95L1160.95,1053.9L1161.79,1053.85L1162.62,1053.8L1163.45,1053.75L1164.28,1053.7L1165.11,1053.65L1165.94,1053.59L1166.77,1053.54L1167.61,1053.49L1168.44,1053.43L1169.27,1053.38L1170.1,1053.32L1170.93,1053.27L1171.76,1053.21L1172.59,1053.15L1173.42,1053.09L1174.26,1053.04L1175.09,1052.98L1175.92,1052.92L1176.75,1052.86L1177.58,1052.8L1178.41,1052.74L1179.24,1052.68L1180.07,1052.62L1180.91,1052.55L1181.74,1052.49L1182.57,1052.43L1183.4,1052.36L1184.23,1052.3L1185.06,1052.23L1185.89,1052.17L1186.72,1052.1L1187.56,1052.03L1188.39,1051.96L1189.22,1051.9L1190.05,1051.83L1190.88,1051.76L1191.71,1051.69L1192.54,1051.62L1193.38,1051.55L1194.21,1051.48L1195.04,1051.4L1195.87,1051.33L1196.7,1051.26L1197.53,1051.18L1198.36,1051.11L1199.19,1051.03L1200.03,1050.96L1200.86,1050.88L1201.69,1050.8L1202.52,1050.72L1203.35,1050.65L1204.18,1050.57L1205.01,1050.49L1205.84,1050.41L1206.68,1050.32L1207.51,1050.24L1208.34,1050.16L1209.17,1050.08L1210,1049.99L1210.83,1049.91L1211.66,1049.83L1212.49,1049.74L1213.33,1049.65L1214.16,1049.57L1214.99,1049.48L1215.82,1049.39L1216.65,1049.3L1217.48,1049.21L1218.31,1049.12L1219.15,1049.03L1219.98,1048.94L1220.81,1048.85L1221.64,1048.75L1222.47,1048.66L1223.3,1048.57L1224.13,1048.47L1224.96,1048.38L1225.8,1048.28L1226.63,1048.18L1227.46,1048.08L1228.29,1047.99L1229.12,1047.89L1229.95,1047.79L1230.78,1047.69L1231.61,1047.58L1232.45,1047.48L1233.28,1047.38L1234.11,1047.28L1234.94,1047.17L1235.77,1047.07L1236.6,1046.96L1237.43,1046.85L1238.26,1046.75L1239.1,1046.64L1239.93,1046.53L1240.76,1046.42L1241.59,1046.31L1242.42,1046.19L1243.25,1046.08L1244.08,1045.97L1244.92,1045.85L1245.75,1045.73L1246.58,1045.62L1247.41,1045.5L1248.24,1045.38L1249.07,1045.26L1249.9,1045.14L1250.73,1045.02L1251.57,1044.89L1252.4,1044.77L1253.23,1044.64L1254.06,1044.51L1254.89,1044.39L1255.72,1044.26L1256.55,1044.13L1257.38,1043.99L1258.22,1043.86L1259.05,1043.73L1259.88,1043.59L1260.71,1043.46L1261.54,1043.32L1262.37,1043.18L1263.2,1043.04L1264.03,1042.9L1264.87,1042.75L1265.7,1042.61L1266.53,1042.46L1267.36,1042.31L1268.19,1042.17L1269.02,1042.02L1269.85,1041.86L1270.68,1041.71L1271.52,1041.56L1272.35,1041.4L1273.18,1041.24L1274.01,1041.08L1274.84,1040.92L1275.67,1040.76L1276.5,1040.6L1277.34,1040.43L1278.17,1040.27L1279,1040.1L1279.83,1039.93L1280.66,1039.76L1281.49,1039.58L1282.32,1039.41L1283.15,1039.23L1283.99,1039.05L1284.82,1038.87L1285.65,1038.69L1286.48,1038.51L1287.31,1038.32L1288.14,1038.14L1288.97,1037.95L1289.8,1037.76L1290.64,1037.57L1291.47,1037.37L1292.3,1037.18L1293.13,1036.98L1293.96,1036.78L1294.79,1036.58L1295.62,1036.37L1296.45,1036.17L1297.29,1035.96L1298.12,1035.75L1298.95,1035.54L1299.78,1035.33L1300.61,1035.11L1301.44,1034.9L1302.27,1034.68L1303.11,1034.46L1303.94,1034.23L1304.77,1034.01L1305.6,1033.78L1306.43,1033.55L1307.26,1033.32L1308.09,1033.09L1308.92,1032.85L1309.76,1032.61L1310.59,1032.37L1311.42,1032.13L1312.25,1031.89L1313.08,1031.64L1313.91,1031.39L1314.74,1031.14L1315.57,1030.89L1316.41,1030.63L1317,1030.45" fill="none" stroke="#000" stroke-width="3" stroke-linejoin="round"/>
<path d="M1324.2,1028.12L1324.72,1027.95L1325.55,1027.66L1326.38,1027.38L1327.21,1027.09L1328.04,1026.8L1328.88,1026.51L1329.71,1026.22L1330.54,1025.92L1331.37,1025.62L1332.2,1025.32L1333.03,1025.02L1333.86,1024.71L1334.69,1024.4L1335.53,1024.09L1336.36,1023.77L1337.19,1023.46L1338.02,1023.14L1338.85,1022.81L1339.68,1022.49L1340.51,1022.16L1341.34,1021.83L1342.18,1021.5L1343.01,1021.16L1343.84,1020.82L1344.67,1020.48L1345.5,1020.14L1346.33,1019.79L1347.16,1019.44L1347.99,1019.08L1348.83,1018.73L1349.66,1018.37L1350.49,1018.01L1351.32,1017.64L1352.15,1017.27L1352.98,1016.9L1353.81,1016.53L1354.65,1016.15L1355.48,1015.77L1356.31,1015.39L1357.14,1015L1357.97,1014.61L1358.8,1014.22L1359.63,1013.82L1360.46,1013.42L1361.3,1013.02L1362.13,1012.62L1362.96,1012.21L1363.79,1011.79L1364.62,1011.38L1365.45,1010.96L1366.28,1010.53L1367.11,1010.11L1367.95,1009.68L1368.78,1009.24L1369.61,1008.81L1370.44,1008.36L1371.27,1007.92L1372.1,1007.47L1372.93,1007.02L1373.76,1006.56L1374.6,1006.1L1375.43,1005.64L1376.26,1005.17L1377.09,1004.7L1377.92,1004.23L1378.75,1003.75L1379.58,1003.27L1380.42,1002.78L1381.25,1002.29L1382.08,1001.8L1382.91,1001.3L1383.74,1000.8L1384.57,1000.29L1385.4,999.78L1386.23,999.26L1387.07,998.74L1387.9,998.22L1388.73,997.69L1389.56,997.16L1390.39,996.63L1391.22,996.09L1392.05,995.54L1392.88,994.99L1393.72,994.44L1394.55,993.88L1395.38,993.32L1396.21,992.75L1397.04,992.18L1397.87,991.61L1398.7,991.03L1399.53,990.44L1400.37,989.85L1401.2,989.26L1402.03,988.66L1402.86,988.05L1403.69,987.45L1404.52,986.83L1405.35,986.22L1406.19,985.59L1407.02,984.97L1407.85,984.33L1408.68,983.7L1409.51,983.06L1410.34,982.41L1411.17,981.76L1412,981.1L1412.84,980.44L1413.67,979.77L1414.5,979.1L1415.33,978.42L1416.16,977.74L1416.99,977.05L1417.82,976.36L1418.65,975.66L1419.49,974.96L1420.32,974.25L1421.15,973.54L1421.98,972.82L1422.81,972.09L1423.64,971.36L1424.47,970.63L1425.3,969.89L1426.14,969.14L1426.97,968.39L1427.8,967.63L1428.63,966.87L1429.46,966.1L1430.29,965.33L1431.12,964.55L1431.96,963.76L1432.79,962.97L1433.62,962.18L1434.45,961.38L1435.28,960.57L1436.11,959.75L1436.94,958.93L1437.77,958.11L1438.61,957.28L1439.44,956.44L1440.27,955.6L1441.1,954.75L1441.93,953.89L1442.76,953.03L1443.59,952.16L1444.42,951.29L1445.26,950.41L1446.09,949.53L1446.92,948.63L1447.75,947.74L1448.58,946.83L1449.41,945.92L1450.24,945.01L1451.07,944.08L1451.91,943.15L1452.74,942.22L1453.57,941.28L1454.4,940.33L1455.23,939.37L1456.06,938.41L1456.89,937.44L1457.73,936.47L1458.56,935.49L1459.39,934.5L1460.22,933.51L1461.05,932.51L1461.88,931.5L1462.71,930.49L1463.54,929.47L1464.38,928.44L1465.21,927.4L1466.04,926.36L1466.87,925.32L1467.7,924.26L1468.53,923.2L1469.36,922.13L1470.19,921.06L1471.03,919.97L1471.86,918.88L1472.69,917.79L1473.52,916.68L1474.35,915.57L1475.18,914.45L1476.01,913.33L1476.84,912.2L1477.68,911.06L1478.51,909.91L1479.34,908.75L1480.17,907.59L1481,906.42L1481.83,905.24L1482.66,904.06L1483.49,902.87L1484.33,901.67L1485.16,900.46L1485.99,899.24L1486.82,898.02L1487.65,896.79L1488.48,895.55L1489.31,894.3L1490.15,893.04L1490.98,891.78L1491.81,890.51L1492.64,889.23L1493.47,887.94L1494.3,886.65L1495.13,885.34L1495.96,884.03L1496.8,882.71L1497.63,881.38L1498.46,880.05L1499.29,878.7L1500.12,877.35L1500.95,875.98L1501.78,874.61L1502.61,873.23L1503.45,871.85L1504.28,870.45L1505.11,869.04L1505.94,867.63L1506.77,866.21L1507.6,864.77L1508.43,863.33L1509.26,861.88L1510.1,860.43L1510.93,858.96L1511.76,857.48L1512.59,856L1513.42,854.5L1514.25,853L1515.08,851.49L1515.92,849.96L1516.75,848.43L1517.58,846.89L1518.41,845.34L1519.24,843.78L1520.07,842.21L1520.9,840.63L1521.73,839.05L1522.57,837.45L1523.4,835.84L1524.23,834.23L1525.06,832.6L1525.89,830.96L1526.72,829.32L1527.55,827.66L1528.38,826L1529.22,824.32L1530.05,822.64L1530.88,820.94L1531.71,819.24L1532.54,817.52L1533.37,815.8L1534.2,814.06L1535.03,812.32L1535.87,810.56L1536.7,808.79L1537.53,807.02L1538.36,805.23L1539.19,803.43L1540.02,801.63L1540.85,799.81L1541.69,797.98L1542.52,796.14L1543.35,794.29L1544.18,792.43L1545.01,790.56L1545.84,788.68L1546.67,786.79L1547.5,784.89L1548.34,782.97L1549.17,781.05L1550,779.11L1550.83,777.16L1551.66,775.2L1552.49,773.23L1553.32,771.24L1554.15,769.24L1554.99,767.23L1555.82,765.2L1556.65,763.16L1557.48,761.1L1558.31,759.03L1559.14,756.94L1559.97,754.83L1560.8,752.71L1561.64,750.57L1562.47,748.42L1563.3,746.25L1564.13,744.06L1564.96,741.85L1565.79,739.62L1566.62,737.37L1567.46,735.11L1568.29,732.82L1569.12,730.52L1569.95,728.19L1570.78,725.84L1571.61,723.48L1572.44,721.09L1573.27,718.69L1574.11,716.26L1574.94,713.82L1575.77,711.37L1576.6,708.89L1577.43,706.4L1578.26,703.9L1579.09,701.38L1579.92,698.85L1580.76,696.3L1581.59,693.75L1582.42,691.18L1583.25,688.6L1584.08,686.01L1584.91,683.41L1585.74,680.8L1586.57,678.18L1587.41,675.56L1588.24,672.93L1589.07,670.29L1589.9,667.65" fill="none" stroke="#000" stroke-width="3" stroke-linejoin="round" stroke-dasharray="6,4.3"/>
<line x1="1406.4" y1="732.3" x2="1437.5" y2="732.3" stroke="#0000ff" stroke-width="3"/>
<line x1="1409.2" y1="779.6" x2="1440.3" y2="779.6" stroke="#000" stroke-width="3"/>
<g transform="translate(1451.9,733.1)"><text x="0" y="0" font-family="'Liberation Serif','Times New Roman',serif" font-size="17.5" font-weight="bold">g</text><text x="8.75" y="8.3" font-family="'Liberation Serif','Times New Roman',serif" font-size="13.3" font-weight="bold">nl</text><text x="19.84" y="0" font-family="'Liberation Serif','Times New Roman',serif" font-size="17.5" font-weight="bold">=5x10</text><text x="64.81" y="-9.2" font-family="'Liberation Serif','Times New Roman',serif" font-size="13.3" font-weight="bold">−4</text><text x="79.04" y="0" font-family="'Liberation Serif','Times New Roman',serif" font-size="17.5" font-weight="bold">g</text><text x="87.79" y="8.3" font-family="'Liberation Serif','Times New Roman',serif" font-size="13.3" font-weight="bold">l</text></g>
<g transform="translate(1454.8,781.1)"><text x="0" y="0" font-family="'Liberation Serif','Times New Roman',serif" font-size="17.5" font-weight="bold">g</text><text x="8.75" y="8.3" font-family="'Liberation Serif','Times New Roman',serif" font-size="13.3" font-weight="bold">nl</text><text x="19.84" y="0" font-family="'Liberation Serif','Times New Roman',serif" font-size="17.5" font-weight="bold">=10</text><text x="47.31" y="-9.2" font-family="'Liberation Serif','Times New Roman',serif" font-size="13.3" font-weight="bold">−3</text><text x="61.54" y="0" font-family="'Liberation Serif','Times New Roman',serif" font-size="17.5" font-weight="bold">g</text><text x="70.29" y="8.3" font-family="'Liberation Serif','Times New Roman',serif" font-size="13.3" font-weight="bold">l</text></g>
<rect x="925.6" y="661.9" width="28.4" height="34.8" fill="#000"/>
<text x="929.2" y="689.5" font-family="'Liberation Sans',Arial,sans-serif" font-size="27.5" font-weight="bold" text-anchor="start" fill="#fff">d</text>
<line x1="1003.4" y1="770.4" x2="1003.4" y2="926.8" stroke="#7f7f7f" stroke-width="1"/>
<line x1="1002.9" y1="926.3" x2="1258.4" y2="926.3" stroke="#7f7f7f" stroke-width="1"/>
<line x1="1003.4" y1="887.32" x2="1007.4" y2="887.32" stroke="#7f7f7f" stroke-width="1"/>
<line x1="1003.4" y1="848.34" x2="1007.4" y2="848.34" stroke="#7f7f7f" stroke-width="1"/>
<line x1="1003.4" y1="809.36" x2="1007.4" y2="809.36" stroke="#7f7f7f" stroke-width="1"/>
<line x1="1003.4" y1="770.38" x2="1007.4" y2="770.38" stroke="#7f7f7f" stroke-width="1"/>
<line x1="1088.22" y1="926.3" x2="1088.22" y2="922.3" stroke="#7f7f7f" stroke-width="1"/>
<line x1="1173.04" y1="926.3" x2="1173.04" y2="922.3" stroke="#7f7f7f" stroke-width="1"/>
<line x1="1257.86" y1="926.3" x2="1257.86" y2="922.3" stroke="#7f7f7f" stroke-width="1"/>
<text x="1001.8" y="932.3" font-family="'Liberation Serif','Times New Roman',serif" font-size="17" font-weight="bold" text-anchor="end">0</text>
<text x="1001.8" y="893.32" font-family="'Liberation Serif','Times New Roman',serif" font-size="17" font-weight="bold" text-anchor="end">1</text>
<text x="1001.8" y="854.34" font-family="'Liberation Serif','Times New Roman',serif" font-size="17" font-weight="bold" text-anchor="end">2</text>
<text x="1001.8" y="815.36" font-family="'Liberation Serif','Times New Roman',serif" font-size="17" font-weight="bold" text-anchor="end">3</text>
<text x="1001.8" y="776.38" font-family="'Liberation Serif','Times New Roman',serif" font-size="17" font-weight="bold" text-anchor="end">4</text>
<text x="1003.7" y="945.2" font-family="'Liberation Serif','Times New Roman',serif" font-size="17" font-weight="bold" text-anchor="middle">0</text>
<text x="1088.52" y="945.2" font-family="'Liberation Serif','Times New Roman',serif" font-size="17" font-weight="bold" text-anchor="middle">200</text>
<text x="1173.34" y="945.2" font-family="'Liberation Serif','Times New Roman',serif" font-size="17" font-weight="bold" text-anchor="middle">400</text>
<text x="1258.16" y="945.2" font-family="'Liberation Serif','Times New Roman',serif" font-size="17" font-weight="bold" text-anchor="middle">600</text>
<g transform="translate(1003.4,765.9)"><text x="0" y="0" font-family="'Liberation Serif','Times New Roman',serif" font-size="17" font-weight="bold">x 10</text><text x="29.75" y="-10.5" font-family="'Liberation Serif','Times New Roman',serif" font-size="12" font-weight="bold">−5</text></g>
<g transform="translate(1130.8,967.3)"><text x="-11.13" y="0" font-family="'Liberation Serif','Times New Roman',serif" font-size="21" font-weight="normal">α</text><text x="-0.13" y="-8.8" font-family="'Liberation Serif','Times New Roman',serif" font-size="13.5" font-weight="bold">in</text></g>
<g transform="translate(978.3,848.8) rotate(-90)"><text x="-28.05" y="0" font-family="'Liberation Serif','Times New Roman',serif" font-size="17" font-weight="normal">Δ</text><text x="-17.12" y="8" font-family="'Liberation Serif','Times New Roman',serif" font-size="13" font-weight="bold">nl</text><text x="-6.28" y="0" font-family="'Liberation Serif','Times New Roman',serif" font-size="17" font-weight="bold">[</text><text x="-0.62" y="0" font-family="'Liberation Serif','Times New Roman',serif" font-size="18.5" font-weight="normal">ω</text><text x="11.56" y="8" font-family="'Liberation Serif','Times New Roman',serif" font-size="13" font-weight="bold">m</text><text x="22.39" y="0" font-family="'Liberation Serif','Times New Roman',serif" font-size="17" font-weight="bold">]</text></g>
<path d="M1003.4,926.11L1004.04,926.13L1004.68,926.15L1005.31,926.17L1005.95,926.19L1006.59,926.2L1007.23,926.22L1007.87,926.23L1008.5,926.25L1009.14,926.26L1009.78,926.28L1010.42,926.29L1011.06,926.3L1011.7,926.32L1012.33,926.33L1012.97,926.34L1013.61,926.35L1014.25,926.36L1014.89,926.37L1015.52,926.38L1016.16,926.39L1016.8,926.39L1017.44,926.4L1018.08,926.41L1018.71,926.41L1019.35,926.42L1019.99,926.42L1020.63,926.43L1021.27,926.43L1021.9,926.43L1022.54,926.44L1023.18,926.44L1023.82,926.44L1024.46,926.44L1025.1,926.44L1025.73,926.44L1026.37,926.44L1027.01,926.44L1027.65,926.44L1028.29,926.44L1028.92,926.43L1029.56,926.43L1030.2,926.43L1030.84,926.42L1031.48,926.42L1032.11,926.41L1032.75,926.4L1033.39,926.4L1034.03,926.39L1034.67,926.38L1035.3,926.37L1035.94,926.36L1036.58,926.36L1037.22,926.35L1037.86,926.33L1038.5,926.32L1039.13,926.31L1039.77,926.3L1040.41,926.29L1041.05,926.27L1041.69,926.26L1042.32,926.25L1042.96,926.23L1043.6,926.22L1044.24,926.2L1044.88,926.18L1045.51,926.17L1046.15,926.15L1046.79,926.13L1047.43,926.11L1048.07,926.09L1048.7,926.07L1049.34,926.05L1049.98,926.03L1050.62,926.01L1051.26,925.99L1051.9,925.97L1052.53,925.94L1053.17,925.92L1053.81,925.9L1054.45,925.87L1055.09,925.85L1055.72,925.82L1056.36,925.8L1057,925.77L1057.64,925.74L1058.28,925.71L1058.91,925.69L1059.55,925.66L1060.19,925.63L1060.83,925.6L1061.47,925.57L1062.1,925.54L1062.74,925.51L1063.38,925.48L1064.02,925.44L1064.66,925.41L1065.3,925.38L1065.93,925.34L1066.57,925.31L1067.21,925.28L1067.85,925.24L1068.49,925.2L1069.12,925.17L1069.76,925.13L1070.4,925.09L1071.04,925.06L1071.68,925.02L1072.31,924.98L1072.95,924.94L1073.59,924.9L1074.23,924.86L1074.87,924.82L1075.5,924.78L1076.14,924.74L1076.78,924.69L1077.42,924.65L1078.06,924.61L1078.7,924.56L1079.33,924.52L1079.97,924.48L1080.61,924.43L1081.25,924.38L1081.89,924.34L1082.52,924.29L1083.16,924.24L1083.8,924.2L1084.44,924.15L1085.08,924.1L1085.71,924.05L1086.35,924L1086.99,923.95L1087.63,923.9L1088.27,923.85L1088.9,923.8L1089.54,923.75L1090.18,923.69L1090.82,923.64L1091.46,923.59L1092.1,923.53L1092.73,923.48L1093.37,923.42L1094.01,923.37L1094.65,923.31L1095.29,923.26L1095.92,923.2L1096.56,923.14L1097.2,923.08L1097.84,923.03L1098.48,922.97L1099.11,922.91L1099.75,922.85L1100.39,922.79L1101.03,922.73L1101.67,922.67L1102.3,922.61L1102.94,922.54L1103.58,922.48L1104.22,922.42L1104.86,922.35L1105.5,922.29L1106.13,922.23L1106.77,922.16L1107.41,922.1L1108.05,922.03L1108.69,921.96L1109.32,921.9L1109.96,921.83L1110.6,921.76L1111.24,921.7L1111.88,921.63L1112.51,921.56L1113.15,921.49L1113.79,921.42L1114.43,921.35L1115.07,921.28L1115.7,921.21L1116.34,921.14L1116.98,921.06L1117.62,920.99L1118.26,920.92L1118.9,920.84L1119.53,920.77L1120.17,920.7L1120.81,920.62L1121.45,920.55L1122.09,920.47L1122.72,920.39L1123.36,920.32L1124,920.24L1124.64,920.16L1125.28,920.09L1125.91,920.01L1126.55,919.93L1127.19,919.85L1127.83,919.77L1128.47,919.69L1129.1,919.61L1129.74,919.53L1130.38,919.45L1131.02,919.36L1131.66,919.28L1132.3,919.2L1132.93,919.12L1133.57,919.03L1134.21,918.95L1134.85,918.86L1135.49,918.78L1136.12,918.69L1136.76,918.61L1137.4,918.52L1138.04,918.44L1138.68,918.35L1139.31,918.26L1139.95,918.17L1140.59,918.08L1141.23,918L1141.87,917.91L1142.5,917.82L1143.14,917.73L1143.78,917.64L1144.42,917.55L1145.06,917.45L1145.7,917.36L1146.33,917.27L1146.97,917.18L1147.61,917.09L1148.25,916.99L1148.89,916.9L1149.52,916.8L1150.16,916.71L1150.8,916.62L1151.44,916.52L1152.08,916.42L1152.71,916.33L1153.35,916.23L1153.99,916.13L1154.63,916.04L1155.27,915.94L1155.9,915.84L1156.54,915.74L1157.18,915.64L1157.82,915.54L1158.46,915.44L1159.1,915.34L1159.73,915.24L1160.37,915.14L1161.01,915.04L1161.65,914.94L1162.29,914.84L1162.92,914.73L1163.56,914.63L1164.2,914.53L1164.84,914.42L1165.48,914.32L1166.11,914.21L1166.75,914.11L1167.39,914L1168.03,913.9L1168.67,913.79L1169.3,913.68L1169.94,913.58L1170.58,913.47L1171.22,913.36L1171.86,913.25L1172.5,913.15L1173.13,913.04L1173.77,912.93L1174.41,912.82L1175.05,912.71L1175.69,912.6L1176.32,912.49L1176.96,912.37L1177.6,912.26L1178.24,912.15L1178.88,912.04L1179.51,911.93L1180.15,911.81L1180.79,911.7L1181.43,911.58L1182.07,911.47L1182.7,911.36L1183.34,911.24L1183.98,911.12L1184.62,911.01L1185.26,910.89L1185.9,910.78L1186.53,910.66L1187.17,910.54L1187.81,910.42L1188.45,910.31L1189.09,910.19L1189.72,910.07L1190.36,909.95L1191,909.83L1191.64,909.71L1192.28,909.59L1192.91,909.47L1193.55,909.35L1194.19,909.23L1194.83,909.11L1195.47,908.98L1196.1,908.86L1196.74,908.74L1197.38,908.61L1198.02,908.49L1198.66,908.37L1199.3,908.24L1199.93,908.12L1200.57,907.99L1201.21,907.87L1201.85,907.74L1202.49,907.62L1203.12,907.49L1203.76,907.36L1204.4,907.24L1205.04,907.11L1205.68,906.98L1206.31,906.85L1206.95,906.72L1207.59,906.6L1208.23,906.47L1208.87,906.34L1209.5,906.21L1210.14,906.08L1210.78,905.95L1211.42,905.82L1212.06,905.68L1212.7,905.55L1213.33,905.42L1213.97,905.29L1214.61,905.16L1215.25,905.02L1215.89,904.89L1216.52,904.76L1217.16,904.62L1217.8,904.49L1218.44,904.35L1219.08,904.22L1219.71,904.08L1220.35,903.95L1220.99,903.81L1221.63,903.67L1222.27,903.54L1222.9,903.4L1223.54,903.26L1224.18,903.13L1224.82,902.99L1225.46,902.85L1226.1,902.71L1226.73,902.57L1227.37,902.43L1228.01,902.29L1228.65,902.15L1229.29,902.01L1229.92,901.87L1230.56,901.73L1231.2,901.59L1231.84,901.45L1232.48,901.31L1233.11,901.16L1233.75,901.02L1234.39,900.88L1235.03,900.74L1235.67,900.59L1236.3,900.45L1236.94,900.3L1237.58,900.16L1238.22,900.02L1238.86,899.87L1239.5,899.73L1240.13,899.58L1240.77,899.43L1241.41,899.29L1242.05,899.14L1242.69,898.99L1243.32,898.85L1243.96,898.7L1244.6,898.55L1245.24,898.4L1245.88,898.25L1246.51,898.11L1247.15,897.96L1247.79,897.81L1248.43,897.66L1249.07,897.51L1249.7,897.36L1250.34,897.21L1250.98,897.06L1251.62,896.91L1252.26,896.75L1252.9,896.6L1253.53,896.45L1254.17,896.3L1254.81,896.15L1255.45,895.99L1256.09,895.84L1256.72,895.69L1257.36,895.53L1258,895.38" fill="none" stroke="#0000ff" stroke-width="2.5" stroke-linejoin="round"/>
<path d="M1003.4,926.42L1004.04,926.39L1004.67,926.37L1005.31,926.35L1005.95,926.33L1006.58,926.32L1007.22,926.3L1007.85,926.28L1008.49,926.27L1009.13,926.25L1009.76,926.24L1010.4,926.22L1011.04,926.21L1011.67,926.2L1012.31,926.18L1012.95,926.17L1013.58,926.16L1014.22,926.15L1014.85,926.14L1015.49,926.13L1016.13,926.13L1016.76,926.12L1017.4,926.11L1018.04,926.1L1018.67,926.1L1019.31,926.09L1019.94,926.09L1020.58,926.08L1021.22,926.08L1021.85,926.07L1022.49,926.07L1023.13,926.06L1023.76,926.06L1024.4,926.06L1025.04,926.05L1025.67,926.05L1026.31,926.05L1026.94,926.04L1027.58,926.04L1028.22,926.04L1028.85,926.04L1029.49,926.03L1030.13,926.03L1030.76,926.03L1031.4,926.03L1032.04,926.02L1032.67,926.02L1033.31,926.02L1033.94,926.02L1034.58,926.01L1035.22,926.01L1035.85,926.01L1036.49,926.01L1037.13,926L1037.76,926L1038.4,926L1039.04,925.99L1039.67,925.99L1040.31,925.98L1040.94,925.98L1041.58,925.97L1042.22,925.97L1042.85,925.96L1043.49,925.96L1044.13,925.95L1044.76,925.94L1045.4,925.94L1046.03,925.93L1046.67,925.92L1047.31,925.91L1047.94,925.9L1048.58,925.89L1049.22,925.88L1049.85,925.87L1050.49,925.86L1051.13,925.84L1051.76,925.83L1052.4,925.82L1053.03,925.8L1053.67,925.79L1054.31,925.77L1054.94,925.75L1055.58,925.74L1056.22,925.72L1056.85,925.7L1057.49,925.68L1058.13,925.66L1058.76,925.63L1059.4,925.61L1060.03,925.59L1060.67,925.56L1061.31,925.53L1061.94,925.51L1062.58,925.48L1063.22,925.45L1063.85,925.42L1064.49,925.39L1065.13,925.36L1065.76,925.32L1066.4,925.29L1067.03,925.25L1067.67,925.22L1068.31,925.18L1068.94,925.14L1069.58,925.1L1070.22,925.05L1070.85,925.01L1071.49,924.97L1072.12,924.92L1072.76,924.87L1073.4,924.82L1074.03,924.77L1074.67,924.72L1075.31,924.67L1075.94,924.61L1076.58,924.56L1077.22,924.5L1077.85,924.44L1078.49,924.38L1079.12,924.31L1079.76,924.25L1080.4,924.18L1081.03,924.12L1081.67,924.05L1082.31,923.98L1082.94,923.9L1083.58,923.83L1084.22,923.75L1084.85,923.68L1085.49,923.6L1086.12,923.52L1086.76,923.43L1087.4,923.35L1088.03,923.26L1088.67,923.18L1089.31,923.09L1089.94,923L1090.58,922.9L1091.22,922.81L1091.85,922.71L1092.49,922.61L1093.12,922.51L1093.76,922.41L1094.4,922.31L1095.03,922.2L1095.67,922.1L1096.31,921.99L1096.94,921.88L1097.58,921.77L1098.21,921.65L1098.85,921.54L1099.49,921.42L1100.12,921.3L1100.76,921.18L1101.4,921.05L1102.03,920.93L1102.67,920.8L1103.31,920.67L1103.94,920.54L1104.58,920.41L1105.21,920.28L1105.85,920.14L1106.49,920L1107.12,919.86L1107.76,919.72L1108.4,919.58L1109.03,919.43L1109.67,919.29L1110.31,919.14L1110.94,918.99L1111.58,918.83L1112.21,918.68L1112.85,918.52L1113.49,918.36L1114.12,918.2L1114.76,918.04L1115.4,917.88L1116.03,917.71L1116.67,917.54L1117.31,917.37L1117.94,917.2L1118.58,917.03L1119.21,916.85L1119.85,916.67L1120.49,916.49L1121.12,916.31L1121.76,916.13L1122.4,915.94L1123.03,915.75L1123.67,915.56L1124.3,915.37L1124.94,915.18L1125.58,914.98L1126.21,914.78L1126.85,914.58L1127.49,914.38L1128.12,914.18L1128.76,913.97L1129.4,913.76L1130.03,913.55L1130.67,913.34L1131.3,913.13L1131.94,912.91L1132.58,912.69L1133.21,912.47L1133.85,912.25L1134.49,912.02L1135.12,911.8L1135.76,911.57L1136.4,911.34L1137.03,911.1L1137.67,910.87L1138.3,910.63L1138.94,910.39L1139.58,910.15L1140.21,909.9L1140.85,909.66L1141.49,909.41L1142.12,909.16L1142.76,908.91L1143.39,908.65L1144.03,908.4L1144.67,908.14L1145.3,907.88L1145.94,907.61L1146.58,907.35L1147.21,907.08L1147.85,906.81L1148.49,906.54L1149.12,906.26L1149.76,905.99L1150.39,905.71L1151.03,905.43L1151.67,905.14L1152.3,904.86L1152.94,904.57L1153.58,904.28L1154.21,903.99L1154.85,903.69L1155.49,903.4L1156.12,903.1L1156.76,902.8L1157.39,902.49L1158.03,902.19L1158.67,901.88L1159.3,901.57L1159.94,901.26L1160.58,900.94L1161.21,900.62L1161.85,900.31L1162.49,899.98L1163.12,899.66L1163.76,899.33L1164.39,899L1165.03,898.67L1165.67,898.34L1166.3,898L1166.94,897.66L1167.58,897.32L1168.21,896.98L1168.85,896.63L1169.48,896.29L1170.12,895.94L1170.76,895.58L1171.39,895.23L1172.03,894.87L1172.67,894.51L1173.3,894.15L1173.94,893.78L1174.58,893.42L1175.21,893.05L1175.85,892.68L1176.48,892.3L1177.12,891.93L1177.76,891.55L1178.39,891.16L1179.03,890.78L1179.67,890.39L1180.3,890L1180.94,889.61L1181.58,889.21L1182.21,888.81L1182.85,888.4L1183.48,887.99L1184.12,887.58L1184.76,887.17L1185.39,886.74L1186.03,886.32L1186.67,885.89L1187.3,885.46L1187.94,885.02L1188.58,884.58L1189.21,884.13L1189.85,883.67" fill="none" stroke="#000" stroke-width="2.5" stroke-linejoin="round"/>
<path d="M1190.48,883.22L1191.12,882.75L1191.76,882.28L1192.39,881.81L1193.03,881.33L1193.67,880.84L1194.3,880.35L1194.94,879.85L1195.57,879.34L1196.21,878.83L1196.85,878.32L1197.48,877.79L1198.12,877.26L1198.76,876.72L1199.39,876.18L1200.03,875.62L1200.67,875.07L1201.3,874.5L1201.94,873.92L1202.57,873.34L1203.21,872.75L1203.85,872.15L1204.48,871.55L1205.12,870.93L1205.76,870.31L1206.39,869.68L1207.03,869.04L1207.67,868.39L1208.3,867.73L1208.94,867.07L1209.57,866.39L1210.21,865.7L1210.85,865.01L1211.48,864.31L1212.12,863.59L1212.76,862.87L1213.39,862.14L1214.03,861.39L1214.67,860.64L1215.3,859.87L1215.94,859.1L1216.57,858.32L1217.21,857.52L1217.85,856.71L1218.48,855.9L1219.12,855.07L1219.76,854.23L1220.39,853.37L1221.03,852.51L1221.66,851.64L1222.3,850.75L1222.94,849.85L1223.57,848.94L1224.21,848.02L1224.85,847.09L1225.48,846.14L1226.12,845.18L1226.76,844.21L1227.39,843.22L1228.03,842.22L1228.66,841.21L1229.3,840.19L1229.94,839.15L1230.57,838.1L1231.21,837.03L1231.85,835.95L1232.48,834.86L1233.12,833.75L1233.76,832.63L1234.39,831.49L1235.03,830.34L1235.66,829.17L1236.3,827.99L1236.94,826.79L1237.57,825.58L1238.21,824.35L1238.85,823.11L1239.48,821.85L1240.12,820.57L1240.76,819.28L1241.39,817.97L1242.03,816.64L1242.66,815.3L1243.3,813.94L1243.94,812.56L1244.57,811.17L1245.21,809.75L1245.85,808.32L1246.48,806.87L1247.12,805.4L1247.75,803.92L1248.39,802.41L1249.03,800.89L1249.66,799.35L1250.3,797.79L1250.94,796.2L1251.57,794.59L1252.21,792.93L1252.85,791.21L1253.48,789.41L1254.12,787.54L1254.75,785.58L1255.39,783.5L1256.03,781.31L1256.66,778.99L1257.3,776.52" fill="none" stroke="#000" stroke-width="2.5" stroke-linejoin="round" stroke-dasharray="5,3.5"/>
<line x1="1063.9" y1="827.4" x2="1094.9" y2="827.4" stroke="#0000ff" stroke-width="2.5"/>
<line x1="1063.5" y1="865.5" x2="1094.7" y2="865.5" stroke="#000" stroke-width="2.5"/>
<g transform="translate(1106.6,828.3)"><text x="0" y="0" font-family="'Liberation Serif','Times New Roman',serif" font-size="17.2" font-weight="bold">g</text><text x="8.6" y="8.6" font-family="'Liberation Serif','Times New Roman',serif" font-size="13.3" font-weight="bold">nl</text><text x="19.69" y="0" font-family="'Liberation Serif','Times New Roman',serif" font-size="17.2" font-weight="bold">=10</text><text x="46.69" y="-8.7" font-family="'Liberation Serif','Times New Roman',serif" font-size="13.3" font-weight="bold">−5</text><text x="60.92" y="0" font-family="'Liberation Serif','Times New Roman',serif" font-size="17.2" font-weight="bold">g</text><text x="69.52" y="8.6" font-family="'Liberation Serif','Times New Roman',serif" font-size="13.3" font-weight="bold">l</text></g>
<g transform="translate(1110,869.2)"><text x="0" y="0" font-family="'Liberation Serif','Times New Roman',serif" font-size="17.2" font-weight="bold">g</text><text x="8.6" y="8.6" font-family="'Liberation Serif','Times New Roman',serif" font-size="13.3" font-weight="bold">nl</text><text x="19.69" y="0" font-family="'Liberation Serif','Times New Roman',serif" font-size="17.2" font-weight="bold">=10</text><text x="46.69" y="-8.7" font-family="'Liberation Serif','Times New Roman',serif" font-size="13.3" font-weight="bold">−4</text><text x="60.92" y="0" font-family="'Liberation Serif','Times New Roman',serif" font-size="17.2" font-weight="bold">g</text><text x="69.52" y="8.6" font-family="'Liberation Serif','Times New Roman',serif" font-size="13.3" font-weight="bold">l</text></g>
</svg>
</body></html>
